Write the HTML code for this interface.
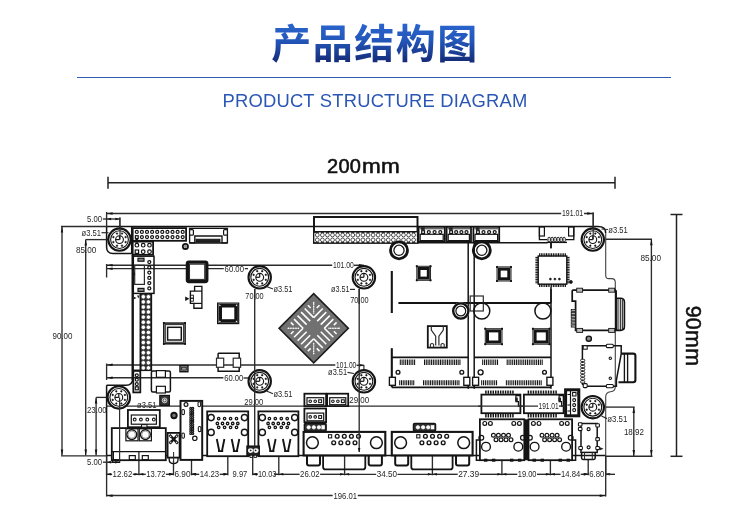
<!DOCTYPE html>
<html lang="zh">
<head>
<meta charset="utf-8">
<title>产品结构图 - Product Structure Diagram</title>
<style>
html,body{margin:0;padding:0;background:#fff;}
body{width:750px;height:528px;overflow:hidden;position:relative;font-family:"Liberation Sans",sans-serif;}
svg{position:absolute;left:0;top:0;display:block;will-change:transform;}
.sub,.w200,.h90{will-change:transform;}
svg text{font-family:"Liberation Sans",sans-serif;}
.sub{position:absolute;left:0;top:90.3px;width:750px;text-align:center;font-size:18.4px;line-height:22px;color:#2b57b4;letter-spacing:0.2px;white-space:nowrap;}
.rule{position:absolute;left:77px;top:77px;width:594px;height:1px;background:#2f5cb9;}
.w200{position:absolute;left:326.6px;top:155.4px;width:100px;text-align:left;font-size:20px;line-height:22px;color:#111;white-space:nowrap;letter-spacing:0.3px;-webkit-text-stroke:0.55px #111;}
.w200 i{font-style:normal;display:inline-block;transform:scaleX(1.125);transform-origin:0 50%;letter-spacing:0.2px;margin-left:0.3px;}
.h90{position:absolute;left:692.6px;top:336px;width:0;height:0;}
.h90 span{position:absolute;left:-50px;top:-11px;width:100px;height:22px;line-height:22px;text-align:center;font-size:21.4px;color:#111;transform:rotate(90deg);white-space:nowrap;-webkit-text-stroke:0.55px #111;letter-spacing:0.3px;}
</style>
</head>
<body>
<div class="rule"></div>
<div class="sub">PRODUCT STRUCTURE DIAGRAM</div>
<div class="w200">200<i>mm</i></div>
<div class="h90"><span>90mm</span></div>
<svg width="750" height="528" viewBox="0 0 750 528" role="img" aria-label="产品结构图">
<title>产品结构图</title>
<defs>
<linearGradient id="tg" x1="0" y1="22" x2="0" y2="62" gradientUnits="userSpaceOnUse">
<stop offset="0" stop-color="#2a66cf"/><stop offset="0.45" stop-color="#2457bb"/><stop offset="1" stop-color="#152c78"/>
</linearGradient>
<pattern id="bga" width="1.3" height="1.3" patternUnits="userSpaceOnUse">
<rect width="1.3" height="1.3" fill="#404040"/><circle cx="0.65" cy="0.65" r="0.42" fill="#cccccc"/>
</pattern>
</defs>
<text x="375" y="57.5" font-size="40" font-weight="bold" text-anchor="middle" letter-spacing="1.5" fill="url(#tg)" style="font-family:'Liberation Sans','Noto Sans CJK SC',sans-serif;">产品结构图</text>
<g stroke-linecap="butt" stroke-linejoin="miter">
<path d="M106.6 226.5 H598 Q605.7 226.5 605.7 233" fill="none" stroke="#141414" stroke-width="1.5" />
<path d="M605.7 233 V275.5 Q605.7 278.6 608.8 278.6 H611.6 Q615.3 278.6 615.3 282.5 V386.5 Q615.3 391.5 610.5 391.8 Q605.7 392.3 605.7 397 V455.6" fill="none" stroke="#444" stroke-width="1.125" />
<path d="M605.7 455.6 H106.6 V385.3" fill="none" stroke="#141414" stroke-width="1.5" />
<path d="M106.6 226.5 V247 Q106.6 253.5 113 253.5 H131.7 V226.5" fill="none" stroke="#141414" stroke-width="1.5" />
<path d="M106.6 385.3 H126 Q132.7 385.3 132.7 378.5" fill="none" stroke="#141414" stroke-width="1.5" />
<line x1="106.6" y1="213.5" x2="562.0" y2="213.5" stroke="#2c2c2c" stroke-width="1.5" />
<line x1="583.2" y1="213.5" x2="593.2" y2="213.5" stroke="#2c2c2c" stroke-width="1.5" />
<path d="M106.6 213.5 L112.6 212.2 L112.6 214.8Z" fill="#141414"/>
<path d="M593.2 213.5 L587.2 214.8 L587.2 212.2Z" fill="#141414"/>
<line x1="106.6" y1="212.0" x2="106.6" y2="226.5" stroke="#2c2c2c" stroke-width="1.35" />
<line x1="593.2" y1="212.5" x2="593.2" y2="239.5" stroke="#2c2c2c" stroke-width="1.35" />
<rect x="561.2" y="210.6" width="22.8" height="6.2" fill="#fff"/>
<text x="562.0" y="216.4" font-size="8.2" text-anchor="start" fill="#262626" font-weight="normal" textLength="21.2" lengthAdjust="spacingAndGlyphs" >191.01</text>
<line x1="102.5" y1="219.0" x2="119.8" y2="219.0" stroke="#2c2c2c" stroke-width="1.35" />
<path d="M106.6 219.0 L111.1 217.8 L111.1 220.2Z" fill="#141414"/>
<path d="M119.8 219.0 L115.3 220.2 L115.3 217.8Z" fill="#141414"/>
<line x1="119.8" y1="217.5" x2="119.8" y2="239.5" stroke="#2c2c2c" stroke-width="1.2000000000000002" />
<rect x="86.2" y="216.1" width="16.6" height="6.2" fill="#fff"/>
<text x="87.0" y="221.9" font-size="8.2" text-anchor="start" fill="#262626" font-weight="normal" textLength="15.0" lengthAdjust="spacingAndGlyphs" >5.00</text>
<line x1="61.0" y1="226.5" x2="106.6" y2="226.5" stroke="#2c2c2c" stroke-width="1.35" />
<line x1="62.0" y1="226.5" x2="62.0" y2="455.6" stroke="#2c2c2c" stroke-width="1.35" />
<path d="M62.0 226.5 L63.2 232.5 L60.8 232.5Z" fill="#141414"/>
<path d="M62.0 455.6 L60.8 449.6 L63.2 449.6Z" fill="#141414"/>
<text x="52.5" y="339.0" font-size="8.2" text-anchor="start" fill="#262626" font-weight="normal" textLength="20.0" lengthAdjust="spacingAndGlyphs" >90.00</text>
<line x1="85.7" y1="239.6" x2="85.7" y2="455.6" stroke="#2c2c2c" stroke-width="1.35" />
<path d="M85.7 239.6 L87.0 245.6 L84.5 245.6Z" fill="#141414"/>
<path d="M85.7 455.6 L84.5 449.6 L87.0 449.6Z" fill="#141414"/>
<line x1="85.7" y1="239.6" x2="108.0" y2="239.6" stroke="#2c2c2c" stroke-width="1.35" />
<text x="76.0" y="252.6" font-size="8.2" text-anchor="start" fill="#262626" font-weight="normal" textLength="20.4" lengthAdjust="spacingAndGlyphs" >85.00</text>
<text x="81.5" y="235.6" font-size="8.2" text-anchor="start" fill="#262626" font-weight="normal" textLength="19.5" lengthAdjust="spacingAndGlyphs" >ø3.51</text>
<line x1="101.5" y1="232.7" x2="108.5" y2="232.7" stroke="#2c2c2c" stroke-width="1.2000000000000002" />
<line x1="96.1" y1="397.4" x2="96.1" y2="455.6" stroke="#2c2c2c" stroke-width="1.35" />
<path d="M96.1 397.4 L97.3 403.4 L94.8 403.4Z" fill="#141414"/>
<path d="M96.1 455.6 L94.8 449.6 L97.3 449.6Z" fill="#141414"/>
<line x1="96.1" y1="397.4" x2="108.0" y2="397.4" stroke="#2c2c2c" stroke-width="1.35" />
<text x="87.0" y="413.2" font-size="8.2" text-anchor="start" fill="#262626" font-weight="normal" textLength="19.6" lengthAdjust="spacingAndGlyphs" >23.00</text>
<line x1="61.0" y1="455.8" x2="106.6" y2="455.8" stroke="#2c2c2c" stroke-width="1.35" />
<line x1="102.5" y1="462.2" x2="119.6" y2="462.2" stroke="#2c2c2c" stroke-width="1.35" />
<path d="M106.6 462.2 L111.1 460.9 L111.1 463.4Z" fill="#141414"/>
<path d="M119.6 462.2 L115.1 463.4 L115.1 460.9Z" fill="#141414"/>
<rect x="86.2" y="459.3" width="16.6" height="6.2" fill="#fff"/>
<text x="87.0" y="465.1" font-size="8.2" text-anchor="start" fill="#262626" font-weight="normal" textLength="15.0" lengthAdjust="spacingAndGlyphs" >5.00</text>
<line x1="106.6" y1="455.6" x2="106.6" y2="496.5" stroke="#2c2c2c" stroke-width="1.35" />
<line x1="106.6" y1="495.6" x2="605.7" y2="495.6" stroke="#2c2c2c" stroke-width="1.5" />
<path d="M106.6 495.6 L112.6 494.4 L112.6 496.9Z" fill="#141414"/>
<path d="M605.7 495.6 L599.7 496.9 L599.7 494.4Z" fill="#141414"/>
<rect x="332.7" y="492.7" width="25.1" height="6.2" fill="#fff"/>
<text x="333.5" y="498.5" font-size="8.2" text-anchor="start" fill="#262626" font-weight="normal" textLength="23.5" lengthAdjust="spacingAndGlyphs" >196.01</text>
<line x1="605.7" y1="455.6" x2="605.7" y2="496.5" stroke="#2c2c2c" stroke-width="1.35" />
<line x1="106.6" y1="265.3" x2="333.0" y2="265.3" stroke="#2c2c2c" stroke-width="1.5" />
<path d="M106.6 265.3 L112.6 264.1 L112.6 266.6Z" fill="#141414"/>
<line x1="106.6" y1="268.6" x2="248.0" y2="268.6" stroke="#2c2c2c" stroke-width="1.35" />
<path d="M106.6 268.6 L112.6 267.4 L112.6 269.9Z" fill="#141414"/>
<line x1="106.6" y1="264.0" x2="106.6" y2="277.5" stroke="#2c2c2c" stroke-width="1.35" />
<rect x="223.8" y="266.0" width="21.0" height="6.2" fill="#fff"/>
<text x="224.6" y="271.8" font-size="8.2" text-anchor="start" fill="#262626" font-weight="normal" textLength="19.4" lengthAdjust="spacingAndGlyphs" >60.00</text>
<rect x="332.2" y="262.4" width="22.4" height="6.2" fill="#fff"/>
<text x="333.0" y="268.2" font-size="8.2" text-anchor="start" fill="#262626" font-weight="normal" textLength="20.8" lengthAdjust="spacingAndGlyphs" >101.00</text>
<line x1="354.0" y1="265.3" x2="363.9" y2="265.3" stroke="#2c2c2c" stroke-width="1.5" />
<path d="M363.9 265.3 L358.9 266.6 L358.9 264.1Z" fill="#141414"/>
<line x1="106.6" y1="364.9" x2="336.0" y2="364.9" stroke="#2c2c2c" stroke-width="1.5" />
<path d="M106.6 364.9 L112.6 363.6 L112.6 366.1Z" fill="#141414"/>
<line x1="106.6" y1="377.7" x2="224.0" y2="377.7" stroke="#2c2c2c" stroke-width="1.35" />
<path d="M106.6 377.7 L112.6 376.4 L112.6 378.9Z" fill="#141414"/>
<line x1="106.6" y1="363.5" x2="106.6" y2="380.0" stroke="#2c2c2c" stroke-width="1.35" />
<rect x="223.4" y="375.4" width="20.8" height="6.2" fill="#fff"/>
<text x="224.2" y="381.2" font-size="8.2" text-anchor="start" fill="#262626" font-weight="normal" textLength="19.2" lengthAdjust="spacingAndGlyphs" >60.00</text>
<line x1="243.5" y1="378.0" x2="249.0" y2="378.0" stroke="#2c2c2c" stroke-width="1.35" />
<rect x="335.3" y="362.4" width="21.7" height="6.2" fill="#fff"/>
<text x="336.1" y="368.2" font-size="8.2" text-anchor="start" fill="#262626" font-weight="normal" textLength="20.1" lengthAdjust="spacingAndGlyphs" >101.00</text>
<line x1="356.5" y1="365.3" x2="363.9" y2="365.3" stroke="#2c2c2c" stroke-width="1.5" />
<path d="M363.9 365.3 L359.4 366.6 L359.4 364.1Z" fill="#141414"/>
<line x1="363.9" y1="365.0" x2="363.9" y2="372.0" stroke="#2c2c2c" stroke-width="1.2000000000000002" />
<text x="245.3" y="298.5" font-size="8.2" text-anchor="start" fill="#262626" font-weight="normal" textLength="18.4" lengthAdjust="spacingAndGlyphs" >70.00</text>
<text x="350.2" y="302.6" font-size="8.2" text-anchor="start" fill="#262626" font-weight="normal" textLength="18.4" lengthAdjust="spacingAndGlyphs" >70.00</text>
<line x1="254.7" y1="289.0" x2="254.7" y2="300.0" stroke="#2c2c2c" stroke-width="1.35" />
<line x1="359.2" y1="289.0" x2="359.2" y2="304.0" stroke="#2c2c2c" stroke-width="1.35" />
<text x="273.4" y="292.0" font-size="8.2" text-anchor="start" fill="#262626" font-weight="normal" textLength="19.0" lengthAdjust="spacingAndGlyphs" >ø3.51</text>
<line x1="266.5" y1="286.5" x2="273.0" y2="289.0" stroke="#2c2c2c" stroke-width="1.2000000000000002" />
<text x="331.0" y="292.4" font-size="8.2" text-anchor="start" fill="#262626" font-weight="normal" textLength="18.5" lengthAdjust="spacingAndGlyphs" >ø3.51</text>
<line x1="350.0" y1="289.4" x2="355.0" y2="289.4" stroke="#2c2c2c" stroke-width="1.2000000000000002" />
<text x="273.4" y="396.8" font-size="8.2" text-anchor="start" fill="#262626" font-weight="normal" textLength="19.0" lengthAdjust="spacingAndGlyphs" >ø3.51</text>
<line x1="266.5" y1="391.0" x2="273.0" y2="393.8" stroke="#2c2c2c" stroke-width="1.2000000000000002" />
<text x="328.1" y="375.3" font-size="8.2" text-anchor="start" fill="#262626" font-weight="normal" textLength="19.0" lengthAdjust="spacingAndGlyphs" >ø3.51</text>
<line x1="347.5" y1="372.3" x2="354.0" y2="373.5" stroke="#2c2c2c" stroke-width="1.2000000000000002" />
<text x="608.3" y="232.5" font-size="8.2" text-anchor="start" fill="#262626" font-weight="normal" textLength="19.4" lengthAdjust="spacingAndGlyphs" >ø3.51</text>
<line x1="601.5" y1="229.0" x2="608.0" y2="229.5" stroke="#2c2c2c" stroke-width="1.2000000000000002" />
<text x="607.3" y="421.6" font-size="8.2" text-anchor="start" fill="#262626" font-weight="normal" textLength="20.0" lengthAdjust="spacingAndGlyphs" >ø3.51</text>
<line x1="601.5" y1="416.0" x2="607.0" y2="418.6" stroke="#2c2c2c" stroke-width="1.2000000000000002" />
<text x="137.0" y="408.0" font-size="8.2" text-anchor="start" fill="#262626" font-weight="normal" textLength="19.5" lengthAdjust="spacingAndGlyphs" >ø3.51</text>
<line x1="106.6" y1="406.1" x2="538.0" y2="406.1" stroke="#2c2c2c" stroke-width="1.35" />
<text x="244.3" y="405.2" font-size="8.2" text-anchor="start" fill="#262626" font-weight="normal" textLength="19.0" lengthAdjust="spacingAndGlyphs" >29.00</text>
<text x="349.2" y="403.3" font-size="8.2" text-anchor="start" fill="#262626" font-weight="normal" textLength="20.0" lengthAdjust="spacingAndGlyphs" >29.00</text>
<line x1="605.7" y1="239.2" x2="652.0" y2="239.2" stroke="#2c2c2c" stroke-width="1.35" />
<line x1="651.4" y1="239.2" x2="651.4" y2="456.0" stroke="#2c2c2c" stroke-width="1.35" />
<path d="M651.4 239.2 L652.6 245.2 L650.1 245.2Z" fill="#141414"/>
<path d="M651.4 456.0 L650.1 450.0 L652.6 450.0Z" fill="#141414"/>
<text x="640.4" y="261.3" font-size="8.2" text-anchor="start" fill="#262626" font-weight="normal" textLength="20.6" lengthAdjust="spacingAndGlyphs" >85.00</text>
<line x1="605.7" y1="456.2" x2="652.5" y2="456.2" stroke="#2c2c2c" stroke-width="1.35" />
<line x1="605.7" y1="407.1" x2="634.6" y2="407.1" stroke="#2c2c2c" stroke-width="1.35" />
<line x1="633.8" y1="407.1" x2="633.8" y2="456.0" stroke="#2c2c2c" stroke-width="1.35" />
<path d="M633.8 407.1 L635.0 413.1 L632.5 413.1Z" fill="#141414"/>
<path d="M633.8 456.0 L632.5 450.0 L635.0 450.0Z" fill="#141414"/>
<text x="623.9" y="435.2" font-size="8.2" text-anchor="start" fill="#262626" font-weight="normal" textLength="20.0" lengthAdjust="spacingAndGlyphs" >18.92</text>
<line x1="106.6" y1="456.0" x2="106.6" y2="475.3" stroke="#2c2c2c" stroke-width="1.35" />
<line x1="138.9" y1="452.0" x2="138.9" y2="475.3" stroke="#2c2c2c" stroke-width="1.35" />
<line x1="173.5" y1="461.0" x2="173.5" y2="475.3" stroke="#2c2c2c" stroke-width="1.35" />
<line x1="191.5" y1="453.0" x2="191.5" y2="475.3" stroke="#2c2c2c" stroke-width="1.35" />
<line x1="227.8" y1="453.0" x2="227.8" y2="475.3" stroke="#2c2c2c" stroke-width="1.35" />
<line x1="252.7" y1="453.0" x2="252.7" y2="475.3" stroke="#2c2c2c" stroke-width="1.35" />
<line x1="278.8" y1="453.0" x2="278.8" y2="475.3" stroke="#2c2c2c" stroke-width="1.35" />
<line x1="344.6" y1="453.0" x2="344.6" y2="475.3" stroke="#2c2c2c" stroke-width="1.35" />
<line x1="432.4" y1="453.0" x2="432.4" y2="475.3" stroke="#2c2c2c" stroke-width="1.35" />
<line x1="501.9" y1="453.0" x2="501.9" y2="475.3" stroke="#2c2c2c" stroke-width="1.35" />
<line x1="550.4" y1="459.0" x2="550.4" y2="475.3" stroke="#2c2c2c" stroke-width="1.35" />
<line x1="588.2" y1="459.0" x2="588.2" y2="475.3" stroke="#2c2c2c" stroke-width="1.35" />
<line x1="605.7" y1="456.0" x2="605.7" y2="475.3" stroke="#2c2c2c" stroke-width="1.35" />
<line x1="106.6" y1="474.3" x2="112.1" y2="474.3" stroke="#2c2c2c" stroke-width="1.35" />
<line x1="132.8" y1="474.3" x2="138.9" y2="474.3" stroke="#2c2c2c" stroke-width="1.35" />
<path d="M106.6 474.3 L111.1 473.1 L111.1 475.6Z" fill="#141414"/>
<path d="M138.9 474.3 L134.4 475.6 L134.4 473.1Z" fill="#141414"/>
<text x="112.6" y="477.2" font-size="8.2" text-anchor="start" fill="#262626" font-weight="normal" textLength="19.7" lengthAdjust="spacingAndGlyphs" >12.62</text>
<line x1="138.9" y1="474.3" x2="145.8" y2="474.3" stroke="#2c2c2c" stroke-width="1.35" />
<line x1="165.9" y1="474.3" x2="173.5" y2="474.3" stroke="#2c2c2c" stroke-width="1.35" />
<path d="M138.9 474.3 L143.4 473.1 L143.4 475.6Z" fill="#141414"/>
<path d="M173.5 474.3 L169.0 475.6 L169.0 473.1Z" fill="#141414"/>
<text x="146.3" y="477.2" font-size="8.2" text-anchor="start" fill="#262626" font-weight="normal" textLength="19.1" lengthAdjust="spacingAndGlyphs" >13.72</text>
<line x1="168.5" y1="474.3" x2="173.5" y2="474.3" stroke="#2c2c2c" stroke-width="1.35" />
<line x1="191.5" y1="474.3" x2="196.5" y2="474.3" stroke="#2c2c2c" stroke-width="1.35" />
<path d="M173.5 474.3 L169.5 475.6 L169.5 473.1Z" fill="#141414"/>
<path d="M191.5 474.3 L195.5 473.1 L195.5 475.6Z" fill="#141414"/>
<text x="174.5" y="477.2" font-size="8.2" text-anchor="start" fill="#262626" font-weight="normal" textLength="16.0" lengthAdjust="spacingAndGlyphs" >6.90</text>
<line x1="191.5" y1="474.3" x2="199.2" y2="474.3" stroke="#2c2c2c" stroke-width="1.35" />
<line x1="219.7" y1="474.3" x2="227.8" y2="474.3" stroke="#2c2c2c" stroke-width="1.35" />
<path d="M191.5 474.3 L196.0 473.1 L196.0 475.6Z" fill="#141414"/>
<path d="M227.8 474.3 L223.3 475.6 L223.3 473.1Z" fill="#141414"/>
<text x="199.7" y="477.2" font-size="8.2" text-anchor="start" fill="#262626" font-weight="normal" textLength="19.5" lengthAdjust="spacingAndGlyphs" >14.23</text>
<line x1="222.8" y1="474.3" x2="227.8" y2="474.3" stroke="#2c2c2c" stroke-width="1.35" />
<line x1="252.7" y1="474.3" x2="257.7" y2="474.3" stroke="#2c2c2c" stroke-width="1.35" />
<path d="M227.8 474.3 L223.8 475.6 L223.8 473.1Z" fill="#141414"/>
<path d="M252.7 474.3 L256.7 473.1 L256.7 475.6Z" fill="#141414"/>
<text x="232.6" y="477.2" font-size="8.2" text-anchor="start" fill="#262626" font-weight="normal" textLength="14.7" lengthAdjust="spacingAndGlyphs" >9.97</text>
<line x1="252.7" y1="474.3" x2="257.4" y2="474.3" stroke="#2c2c2c" stroke-width="1.35" />
<line x1="276.9" y1="474.3" x2="278.8" y2="474.3" stroke="#2c2c2c" stroke-width="1.35" />
<path d="M252.7 474.3 L257.2 473.1 L257.2 475.6Z" fill="#141414"/>
<path d="M278.8 474.3 L274.3 475.6 L274.3 473.1Z" fill="#141414"/>
<text x="257.9" y="477.2" font-size="8.2" text-anchor="start" fill="#262626" font-weight="normal" textLength="18.5" lengthAdjust="spacingAndGlyphs" >10.03</text>
<line x1="278.8" y1="474.3" x2="299.6" y2="474.3" stroke="#2c2c2c" stroke-width="1.35" />
<line x1="320.1" y1="474.3" x2="344.6" y2="474.3" stroke="#2c2c2c" stroke-width="1.35" />
<path d="M278.8 474.3 L283.3 473.1 L283.3 475.6Z" fill="#141414"/>
<path d="M344.6 474.3 L340.1 475.6 L340.1 473.1Z" fill="#141414"/>
<text x="300.1" y="477.2" font-size="8.2" text-anchor="start" fill="#262626" font-weight="normal" textLength="19.5" lengthAdjust="spacingAndGlyphs" >26.02</text>
<line x1="344.6" y1="474.3" x2="376.2" y2="474.3" stroke="#2c2c2c" stroke-width="1.35" />
<line x1="397.5" y1="474.3" x2="432.4" y2="474.3" stroke="#2c2c2c" stroke-width="1.35" />
<path d="M344.6 474.3 L349.1 473.1 L349.1 475.6Z" fill="#141414"/>
<path d="M432.4 474.3 L427.9 475.6 L427.9 473.1Z" fill="#141414"/>
<text x="376.7" y="477.2" font-size="8.2" text-anchor="start" fill="#262626" font-weight="normal" textLength="20.3" lengthAdjust="spacingAndGlyphs" >34.50</text>
<line x1="432.4" y1="474.3" x2="457.7" y2="474.3" stroke="#2c2c2c" stroke-width="1.35" />
<line x1="479.7" y1="474.3" x2="501.9" y2="474.3" stroke="#2c2c2c" stroke-width="1.35" />
<path d="M432.4 474.3 L436.9 473.1 L436.9 475.6Z" fill="#141414"/>
<path d="M501.9 474.3 L497.4 475.6 L497.4 473.1Z" fill="#141414"/>
<text x="458.2" y="477.2" font-size="8.2" text-anchor="start" fill="#262626" font-weight="normal" textLength="21.0" lengthAdjust="spacingAndGlyphs" >27.39</text>
<line x1="501.9" y1="474.3" x2="517.3" y2="474.3" stroke="#2c2c2c" stroke-width="1.35" />
<line x1="537.0" y1="474.3" x2="550.4" y2="474.3" stroke="#2c2c2c" stroke-width="1.35" />
<path d="M501.9 474.3 L506.4 473.1 L506.4 475.6Z" fill="#141414"/>
<path d="M550.4 474.3 L545.9 475.6 L545.9 473.1Z" fill="#141414"/>
<text x="517.8" y="477.2" font-size="8.2" text-anchor="start" fill="#262626" font-weight="normal" textLength="18.7" lengthAdjust="spacingAndGlyphs" >19.00</text>
<line x1="550.4" y1="474.3" x2="560.6" y2="474.3" stroke="#2c2c2c" stroke-width="1.35" />
<line x1="580.7" y1="474.3" x2="588.2" y2="474.3" stroke="#2c2c2c" stroke-width="1.35" />
<path d="M550.4 474.3 L554.9 473.1 L554.9 475.6Z" fill="#141414"/>
<path d="M588.2 474.3 L583.7 475.6 L583.7 473.1Z" fill="#141414"/>
<text x="561.1" y="477.2" font-size="8.2" text-anchor="start" fill="#262626" font-weight="normal" textLength="19.1" lengthAdjust="spacingAndGlyphs" >14.84</text>
<line x1="583.2" y1="474.3" x2="588.2" y2="474.3" stroke="#2c2c2c" stroke-width="1.35" />
<line x1="605.7" y1="474.3" x2="610.7" y2="474.3" stroke="#2c2c2c" stroke-width="1.35" />
<path d="M588.2 474.3 L584.2 475.6 L584.2 473.1Z" fill="#141414"/>
<path d="M605.7 474.3 L609.7 473.1 L609.7 475.6Z" fill="#141414"/>
<text x="589.2" y="477.2" font-size="8.2" text-anchor="start" fill="#262626" font-weight="normal" textLength="15.1" lengthAdjust="spacingAndGlyphs" >6.80</text>
<line x1="605.7" y1="474.3" x2="615.0" y2="474.3" stroke="#2c2c2c" stroke-width="1.35" />
<line x1="108.0" y1="182.8" x2="615.0" y2="182.8" stroke="#222" stroke-width="1.5" />
<line x1="108.0" y1="176.8" x2="108.0" y2="188.8" stroke="#222" stroke-width="1.5" />
<line x1="615.0" y1="176.8" x2="615.0" y2="188.8" stroke="#222" stroke-width="1.5" />
<line x1="676.5" y1="214.5" x2="676.5" y2="456.3" stroke="#222" stroke-width="1.5" />
<line x1="670.5" y1="214.5" x2="682.5" y2="214.5" stroke="#222" stroke-width="1.5" />
<line x1="670.5" y1="456.3" x2="682.5" y2="456.3" stroke="#222" stroke-width="1.5" />
<circle cx="119.5" cy="239.6" r="11.5" fill="#fff"/>
<circle cx="119.5" cy="239.6" r="11.20" fill="none" stroke="#141414" stroke-width="2.0999999999999996"/>
<circle cx="119.5" cy="239.6" r="8.90" fill="none" stroke="#141414" stroke-width="1.125"/>
<circle cx="125.6" cy="242.1" r="0.85" fill="#141414" stroke="#141414" stroke-width="0.44999999999999996"/>
<circle cx="122.0" cy="245.7" r="0.85" fill="#141414" stroke="#141414" stroke-width="0.44999999999999996"/>
<circle cx="117.0" cy="245.7" r="0.85" fill="#141414" stroke="#141414" stroke-width="0.44999999999999996"/>
<circle cx="113.4" cy="242.1" r="0.85" fill="#141414" stroke="#141414" stroke-width="0.44999999999999996"/>
<circle cx="113.4" cy="237.1" r="0.85" fill="#141414" stroke="#141414" stroke-width="0.44999999999999996"/>
<circle cx="117.0" cy="233.5" r="0.85" fill="#141414" stroke="#141414" stroke-width="0.44999999999999996"/>
<circle cx="122.0" cy="233.5" r="0.85" fill="#141414" stroke="#141414" stroke-width="0.44999999999999996"/>
<circle cx="125.6" cy="237.1" r="0.85" fill="#141414" stroke="#141414" stroke-width="0.44999999999999996"/>
<circle cx="119.5" cy="239.6" r="3.90" fill="none" stroke="#141414" stroke-width="1.125"/>
<line x1="119.5" y1="239.6" x2="119.5" y2="235.7" stroke="#141414" stroke-width="1.2000000000000002" />
<line x1="115.6" y1="239.6" x2="119.5" y2="239.6" stroke="#141414" stroke-width="1.2000000000000002" />
<circle cx="259.7" cy="277.3" r="11.5" fill="#fff"/>
<circle cx="259.7" cy="277.3" r="11.20" fill="none" stroke="#141414" stroke-width="2.0999999999999996"/>
<circle cx="259.7" cy="277.3" r="8.90" fill="none" stroke="#141414" stroke-width="1.125"/>
<circle cx="265.8" cy="279.8" r="0.85" fill="#141414" stroke="#141414" stroke-width="0.44999999999999996"/>
<circle cx="262.2" cy="283.4" r="0.85" fill="#141414" stroke="#141414" stroke-width="0.44999999999999996"/>
<circle cx="257.2" cy="283.4" r="0.85" fill="#141414" stroke="#141414" stroke-width="0.44999999999999996"/>
<circle cx="253.6" cy="279.8" r="0.85" fill="#141414" stroke="#141414" stroke-width="0.44999999999999996"/>
<circle cx="253.6" cy="274.8" r="0.85" fill="#141414" stroke="#141414" stroke-width="0.44999999999999996"/>
<circle cx="257.2" cy="271.2" r="0.85" fill="#141414" stroke="#141414" stroke-width="0.44999999999999996"/>
<circle cx="262.2" cy="271.2" r="0.85" fill="#141414" stroke="#141414" stroke-width="0.44999999999999996"/>
<circle cx="265.8" cy="274.8" r="0.85" fill="#141414" stroke="#141414" stroke-width="0.44999999999999996"/>
<circle cx="259.7" cy="277.3" r="3.90" fill="none" stroke="#141414" stroke-width="1.125"/>
<line x1="259.7" y1="277.3" x2="259.7" y2="273.4" stroke="#141414" stroke-width="1.2000000000000002" />
<line x1="255.8" y1="277.3" x2="259.7" y2="277.3" stroke="#141414" stroke-width="1.2000000000000002" />
<circle cx="363.9" cy="277.3" r="11.5" fill="#fff"/>
<circle cx="363.9" cy="277.3" r="11.20" fill="none" stroke="#141414" stroke-width="2.0999999999999996"/>
<circle cx="363.9" cy="277.3" r="8.90" fill="none" stroke="#141414" stroke-width="1.125"/>
<circle cx="370.0" cy="279.8" r="0.85" fill="#141414" stroke="#141414" stroke-width="0.44999999999999996"/>
<circle cx="366.4" cy="283.4" r="0.85" fill="#141414" stroke="#141414" stroke-width="0.44999999999999996"/>
<circle cx="361.4" cy="283.4" r="0.85" fill="#141414" stroke="#141414" stroke-width="0.44999999999999996"/>
<circle cx="357.8" cy="279.8" r="0.85" fill="#141414" stroke="#141414" stroke-width="0.44999999999999996"/>
<circle cx="357.8" cy="274.8" r="0.85" fill="#141414" stroke="#141414" stroke-width="0.44999999999999996"/>
<circle cx="361.4" cy="271.2" r="0.85" fill="#141414" stroke="#141414" stroke-width="0.44999999999999996"/>
<circle cx="366.4" cy="271.2" r="0.85" fill="#141414" stroke="#141414" stroke-width="0.44999999999999996"/>
<circle cx="370.0" cy="274.8" r="0.85" fill="#141414" stroke="#141414" stroke-width="0.44999999999999996"/>
<circle cx="363.9" cy="277.3" r="3.90" fill="none" stroke="#141414" stroke-width="1.125"/>
<line x1="363.9" y1="277.3" x2="363.9" y2="273.4" stroke="#141414" stroke-width="1.2000000000000002" />
<line x1="360.0" y1="277.3" x2="363.9" y2="277.3" stroke="#141414" stroke-width="1.2000000000000002" />
<circle cx="592.8" cy="239.6" r="11.5" fill="#fff"/>
<circle cx="592.8" cy="239.6" r="11.20" fill="none" stroke="#141414" stroke-width="2.0999999999999996"/>
<circle cx="592.8" cy="239.6" r="8.90" fill="none" stroke="#141414" stroke-width="1.125"/>
<circle cx="598.9" cy="242.1" r="0.85" fill="#141414" stroke="#141414" stroke-width="0.44999999999999996"/>
<circle cx="595.3" cy="245.7" r="0.85" fill="#141414" stroke="#141414" stroke-width="0.44999999999999996"/>
<circle cx="590.3" cy="245.7" r="0.85" fill="#141414" stroke="#141414" stroke-width="0.44999999999999996"/>
<circle cx="586.7" cy="242.1" r="0.85" fill="#141414" stroke="#141414" stroke-width="0.44999999999999996"/>
<circle cx="586.7" cy="237.1" r="0.85" fill="#141414" stroke="#141414" stroke-width="0.44999999999999996"/>
<circle cx="590.3" cy="233.5" r="0.85" fill="#141414" stroke="#141414" stroke-width="0.44999999999999996"/>
<circle cx="595.3" cy="233.5" r="0.85" fill="#141414" stroke="#141414" stroke-width="0.44999999999999996"/>
<circle cx="598.9" cy="237.1" r="0.85" fill="#141414" stroke="#141414" stroke-width="0.44999999999999996"/>
<circle cx="592.8" cy="239.6" r="3.90" fill="none" stroke="#141414" stroke-width="1.125"/>
<line x1="592.8" y1="239.6" x2="592.8" y2="235.7" stroke="#141414" stroke-width="1.2000000000000002" />
<line x1="588.9" y1="239.6" x2="592.8" y2="239.6" stroke="#141414" stroke-width="1.2000000000000002" />
<circle cx="118.8" cy="397.4" r="11.5" fill="#fff"/>
<circle cx="118.8" cy="397.4" r="11.20" fill="none" stroke="#141414" stroke-width="2.0999999999999996"/>
<circle cx="118.8" cy="397.4" r="8.90" fill="none" stroke="#141414" stroke-width="1.125"/>
<circle cx="124.9" cy="399.9" r="0.85" fill="#141414" stroke="#141414" stroke-width="0.44999999999999996"/>
<circle cx="121.3" cy="403.5" r="0.85" fill="#141414" stroke="#141414" stroke-width="0.44999999999999996"/>
<circle cx="116.3" cy="403.5" r="0.85" fill="#141414" stroke="#141414" stroke-width="0.44999999999999996"/>
<circle cx="112.7" cy="399.9" r="0.85" fill="#141414" stroke="#141414" stroke-width="0.44999999999999996"/>
<circle cx="112.7" cy="394.9" r="0.85" fill="#141414" stroke="#141414" stroke-width="0.44999999999999996"/>
<circle cx="116.3" cy="391.3" r="0.85" fill="#141414" stroke="#141414" stroke-width="0.44999999999999996"/>
<circle cx="121.3" cy="391.3" r="0.85" fill="#141414" stroke="#141414" stroke-width="0.44999999999999996"/>
<circle cx="124.9" cy="394.9" r="0.85" fill="#141414" stroke="#141414" stroke-width="0.44999999999999996"/>
<circle cx="118.8" cy="397.4" r="3.90" fill="none" stroke="#141414" stroke-width="1.125"/>
<line x1="118.8" y1="397.4" x2="118.8" y2="393.5" stroke="#141414" stroke-width="1.2000000000000002" />
<line x1="114.9" y1="397.4" x2="118.8" y2="397.4" stroke="#141414" stroke-width="1.2000000000000002" />
<circle cx="259.7" cy="381.3" r="11.5" fill="#fff"/>
<circle cx="259.7" cy="381.3" r="11.20" fill="none" stroke="#141414" stroke-width="2.0999999999999996"/>
<circle cx="259.7" cy="381.3" r="8.90" fill="none" stroke="#141414" stroke-width="1.125"/>
<circle cx="265.8" cy="383.8" r="0.85" fill="#141414" stroke="#141414" stroke-width="0.44999999999999996"/>
<circle cx="262.2" cy="387.4" r="0.85" fill="#141414" stroke="#141414" stroke-width="0.44999999999999996"/>
<circle cx="257.2" cy="387.4" r="0.85" fill="#141414" stroke="#141414" stroke-width="0.44999999999999996"/>
<circle cx="253.6" cy="383.8" r="0.85" fill="#141414" stroke="#141414" stroke-width="0.44999999999999996"/>
<circle cx="253.6" cy="378.8" r="0.85" fill="#141414" stroke="#141414" stroke-width="0.44999999999999996"/>
<circle cx="257.2" cy="375.2" r="0.85" fill="#141414" stroke="#141414" stroke-width="0.44999999999999996"/>
<circle cx="262.2" cy="375.2" r="0.85" fill="#141414" stroke="#141414" stroke-width="0.44999999999999996"/>
<circle cx="265.8" cy="378.8" r="0.85" fill="#141414" stroke="#141414" stroke-width="0.44999999999999996"/>
<circle cx="259.7" cy="381.3" r="3.90" fill="none" stroke="#141414" stroke-width="1.125"/>
<line x1="259.7" y1="381.3" x2="259.7" y2="377.4" stroke="#141414" stroke-width="1.2000000000000002" />
<line x1="255.8" y1="381.3" x2="259.7" y2="381.3" stroke="#141414" stroke-width="1.2000000000000002" />
<circle cx="363.9" cy="381.3" r="11.5" fill="#fff"/>
<circle cx="363.9" cy="381.3" r="11.20" fill="none" stroke="#141414" stroke-width="2.0999999999999996"/>
<circle cx="363.9" cy="381.3" r="8.90" fill="none" stroke="#141414" stroke-width="1.125"/>
<circle cx="370.0" cy="383.8" r="0.85" fill="#141414" stroke="#141414" stroke-width="0.44999999999999996"/>
<circle cx="366.4" cy="387.4" r="0.85" fill="#141414" stroke="#141414" stroke-width="0.44999999999999996"/>
<circle cx="361.4" cy="387.4" r="0.85" fill="#141414" stroke="#141414" stroke-width="0.44999999999999996"/>
<circle cx="357.8" cy="383.8" r="0.85" fill="#141414" stroke="#141414" stroke-width="0.44999999999999996"/>
<circle cx="357.8" cy="378.8" r="0.85" fill="#141414" stroke="#141414" stroke-width="0.44999999999999996"/>
<circle cx="361.4" cy="375.2" r="0.85" fill="#141414" stroke="#141414" stroke-width="0.44999999999999996"/>
<circle cx="366.4" cy="375.2" r="0.85" fill="#141414" stroke="#141414" stroke-width="0.44999999999999996"/>
<circle cx="370.0" cy="378.8" r="0.85" fill="#141414" stroke="#141414" stroke-width="0.44999999999999996"/>
<circle cx="363.9" cy="381.3" r="3.90" fill="none" stroke="#141414" stroke-width="1.125"/>
<line x1="363.9" y1="381.3" x2="363.9" y2="377.4" stroke="#141414" stroke-width="1.2000000000000002" />
<line x1="360.0" y1="381.3" x2="363.9" y2="381.3" stroke="#141414" stroke-width="1.2000000000000002" />
<circle cx="592.8" cy="407.2" r="11.5" fill="#fff"/>
<circle cx="592.8" cy="407.2" r="11.20" fill="none" stroke="#141414" stroke-width="2.0999999999999996"/>
<circle cx="592.8" cy="407.2" r="8.90" fill="none" stroke="#141414" stroke-width="1.125"/>
<circle cx="598.9" cy="409.7" r="0.85" fill="#141414" stroke="#141414" stroke-width="0.44999999999999996"/>
<circle cx="595.3" cy="413.3" r="0.85" fill="#141414" stroke="#141414" stroke-width="0.44999999999999996"/>
<circle cx="590.3" cy="413.3" r="0.85" fill="#141414" stroke="#141414" stroke-width="0.44999999999999996"/>
<circle cx="586.7" cy="409.7" r="0.85" fill="#141414" stroke="#141414" stroke-width="0.44999999999999996"/>
<circle cx="586.7" cy="404.7" r="0.85" fill="#141414" stroke="#141414" stroke-width="0.44999999999999996"/>
<circle cx="590.3" cy="401.1" r="0.85" fill="#141414" stroke="#141414" stroke-width="0.44999999999999996"/>
<circle cx="595.3" cy="401.1" r="0.85" fill="#141414" stroke="#141414" stroke-width="0.44999999999999996"/>
<circle cx="598.9" cy="404.7" r="0.85" fill="#141414" stroke="#141414" stroke-width="0.44999999999999996"/>
<circle cx="592.8" cy="407.2" r="3.90" fill="none" stroke="#141414" stroke-width="1.125"/>
<line x1="592.8" y1="407.2" x2="592.8" y2="403.3" stroke="#141414" stroke-width="1.2000000000000002" />
<line x1="588.9" y1="407.2" x2="592.8" y2="407.2" stroke="#141414" stroke-width="1.2000000000000002" />
<rect x="132.7" y="228.1" width="53.4" height="12.7" rx="0" fill="none" stroke="#141414" stroke-width="1.7999999999999998"/>
<circle cx="136.8" cy="231.9" r="1.50" fill="none" stroke="#141414" stroke-width="1.2000000000000002"/>
<rect x="135.4" y="235.7" width="2.8" height="2.8" rx="0" fill="none" stroke="#141414" stroke-width="1.2000000000000002"/>
<circle cx="141.9" cy="231.9" r="1.50" fill="none" stroke="#141414" stroke-width="1.2000000000000002"/>
<circle cx="141.9" cy="237.1" r="1.50" fill="none" stroke="#141414" stroke-width="1.2000000000000002"/>
<circle cx="147.0" cy="231.9" r="1.50" fill="none" stroke="#141414" stroke-width="1.2000000000000002"/>
<circle cx="147.0" cy="237.1" r="1.50" fill="none" stroke="#141414" stroke-width="1.2000000000000002"/>
<circle cx="152.1" cy="231.9" r="1.50" fill="none" stroke="#141414" stroke-width="1.2000000000000002"/>
<circle cx="152.1" cy="237.1" r="1.50" fill="none" stroke="#141414" stroke-width="1.2000000000000002"/>
<circle cx="157.2" cy="231.9" r="1.50" fill="none" stroke="#141414" stroke-width="1.2000000000000002"/>
<circle cx="157.2" cy="237.1" r="1.50" fill="none" stroke="#141414" stroke-width="1.2000000000000002"/>
<circle cx="162.3" cy="231.9" r="1.50" fill="none" stroke="#141414" stroke-width="1.2000000000000002"/>
<circle cx="162.3" cy="237.1" r="1.50" fill="none" stroke="#141414" stroke-width="1.2000000000000002"/>
<circle cx="167.4" cy="231.9" r="1.50" fill="none" stroke="#141414" stroke-width="1.2000000000000002"/>
<circle cx="167.4" cy="237.1" r="1.50" fill="none" stroke="#141414" stroke-width="1.2000000000000002"/>
<circle cx="172.5" cy="231.9" r="1.50" fill="none" stroke="#141414" stroke-width="1.2000000000000002"/>
<circle cx="172.5" cy="237.1" r="1.50" fill="none" stroke="#141414" stroke-width="1.2000000000000002"/>
<circle cx="177.6" cy="231.9" r="1.50" fill="none" stroke="#141414" stroke-width="1.2000000000000002"/>
<circle cx="177.6" cy="237.1" r="1.50" fill="none" stroke="#141414" stroke-width="1.2000000000000002"/>
<circle cx="182.7" cy="231.9" r="1.50" fill="none" stroke="#141414" stroke-width="1.2000000000000002"/>
<circle cx="182.7" cy="237.1" r="1.50" fill="none" stroke="#141414" stroke-width="1.2000000000000002"/>
<rect x="132.7" y="241.6" width="20.4" height="13.2" rx="0" fill="none" stroke="#141414" stroke-width="1.7999999999999998"/>
<rect x="135.4" y="238.6" width="2.6" height="4" fill="#141414"/>
<circle cx="136.9" cy="245.2" r="1.80" fill="none" stroke="#141414" stroke-width="1.2000000000000002"/>
<rect x="135.2" y="250.0" width="3.4" height="3.4" rx="0" fill="none" stroke="#141414" stroke-width="1.2000000000000002"/>
<circle cx="143.2" cy="245.2" r="1.80" fill="none" stroke="#141414" stroke-width="1.2000000000000002"/>
<circle cx="143.2" cy="251.7" r="1.80" fill="none" stroke="#141414" stroke-width="1.2000000000000002"/>
<circle cx="149.5" cy="245.2" r="1.80" fill="none" stroke="#141414" stroke-width="1.2000000000000002"/>
<circle cx="149.5" cy="251.7" r="1.80" fill="none" stroke="#141414" stroke-width="1.2000000000000002"/>
<rect x="133.3" y="256.2" width="20.7" height="37.2" rx="0" fill="none" stroke="#141414" stroke-width="1.5"/>
<rect x="138.0" y="258.2" width="6.0" height="3.0" rx="0" fill="#888" stroke="#141414" stroke-width="1.2000000000000002"/>
<rect x="138.0" y="288.4" width="6.0" height="3.0" rx="0" fill="#888" stroke="#141414" stroke-width="1.2000000000000002"/>
<rect x="134.7" y="265.3" width="9.7" height="19.1" rx="0" fill="none" stroke="#2c2c2c" stroke-width="1.2000000000000002"/>
<circle cx="149.3" cy="262.1" r="1.50" fill="none" stroke="#141414" stroke-width="1.275"/>
<circle cx="149.3" cy="267.4" r="1.50" fill="none" stroke="#141414" stroke-width="1.275"/>
<circle cx="149.3" cy="272.6" r="1.50" fill="none" stroke="#141414" stroke-width="1.275"/>
<circle cx="149.3" cy="277.9" r="1.50" fill="none" stroke="#141414" stroke-width="1.275"/>
<circle cx="149.3" cy="283.1" r="1.50" fill="none" stroke="#141414" stroke-width="1.275"/>
<circle cx="149.3" cy="288.4" r="1.50" fill="none" stroke="#141414" stroke-width="1.275"/>
<path d="M133.3 272 l1.2 2 l-1.2 2" fill="#141414" stroke="#141414" stroke-width="1.2000000000000002" />
<line x1="132.7" y1="254.8" x2="132.7" y2="380.0" stroke="#141414" stroke-width="2.4000000000000004" />
<rect x="140.3" y="294.0" width="11.1" height="76.3" rx="0" fill="#2e2e2e" stroke="#141414" stroke-width="1.5"/>
<line x1="132.7" y1="370.3" x2="151.4" y2="370.3" stroke="#141414" stroke-width="1.5" />
<circle cx="143.3" cy="296.8" r="2.20" fill="#fff" stroke="#222" stroke-width="0.6000000000000001"/>
<circle cx="148.4" cy="296.8" r="2.20" fill="#fff" stroke="#222" stroke-width="0.6000000000000001"/>
<circle cx="143.3" cy="301.9" r="2.20" fill="#fff" stroke="#222" stroke-width="0.6000000000000001"/>
<circle cx="148.4" cy="301.9" r="2.20" fill="#fff" stroke="#222" stroke-width="0.6000000000000001"/>
<circle cx="143.3" cy="307.0" r="2.20" fill="#fff" stroke="#222" stroke-width="0.6000000000000001"/>
<circle cx="148.4" cy="307.0" r="2.20" fill="#fff" stroke="#222" stroke-width="0.6000000000000001"/>
<circle cx="143.3" cy="312.0" r="2.20" fill="#fff" stroke="#222" stroke-width="0.6000000000000001"/>
<circle cx="148.4" cy="312.0" r="2.20" fill="#fff" stroke="#222" stroke-width="0.6000000000000001"/>
<circle cx="143.3" cy="317.1" r="2.20" fill="#fff" stroke="#222" stroke-width="0.6000000000000001"/>
<circle cx="148.4" cy="317.1" r="2.20" fill="#fff" stroke="#222" stroke-width="0.6000000000000001"/>
<circle cx="143.3" cy="322.2" r="2.20" fill="#fff" stroke="#222" stroke-width="0.6000000000000001"/>
<circle cx="148.4" cy="322.2" r="2.20" fill="#fff" stroke="#222" stroke-width="0.6000000000000001"/>
<circle cx="143.3" cy="327.3" r="2.20" fill="#fff" stroke="#222" stroke-width="0.6000000000000001"/>
<circle cx="148.4" cy="327.3" r="2.20" fill="#fff" stroke="#222" stroke-width="0.6000000000000001"/>
<circle cx="143.3" cy="332.4" r="2.20" fill="#fff" stroke="#222" stroke-width="0.6000000000000001"/>
<circle cx="148.4" cy="332.4" r="2.20" fill="#fff" stroke="#222" stroke-width="0.6000000000000001"/>
<circle cx="143.3" cy="337.4" r="2.20" fill="#fff" stroke="#222" stroke-width="0.6000000000000001"/>
<circle cx="148.4" cy="337.4" r="2.20" fill="#fff" stroke="#222" stroke-width="0.6000000000000001"/>
<circle cx="143.3" cy="342.5" r="2.20" fill="#fff" stroke="#222" stroke-width="0.6000000000000001"/>
<circle cx="148.4" cy="342.5" r="2.20" fill="#fff" stroke="#222" stroke-width="0.6000000000000001"/>
<circle cx="143.3" cy="347.6" r="2.20" fill="#fff" stroke="#222" stroke-width="0.6000000000000001"/>
<circle cx="148.4" cy="347.6" r="2.20" fill="#fff" stroke="#222" stroke-width="0.6000000000000001"/>
<circle cx="143.3" cy="352.7" r="2.20" fill="#fff" stroke="#222" stroke-width="0.6000000000000001"/>
<circle cx="148.4" cy="352.7" r="2.20" fill="#fff" stroke="#222" stroke-width="0.6000000000000001"/>
<circle cx="143.3" cy="357.8" r="2.20" fill="#fff" stroke="#222" stroke-width="0.6000000000000001"/>
<circle cx="148.4" cy="357.8" r="2.20" fill="#fff" stroke="#222" stroke-width="0.6000000000000001"/>
<circle cx="143.3" cy="362.8" r="2.20" fill="#fff" stroke="#222" stroke-width="0.6000000000000001"/>
<circle cx="148.4" cy="362.8" r="2.20" fill="#fff" stroke="#222" stroke-width="0.6000000000000001"/>
<circle cx="143.3" cy="367.9" r="2.20" fill="#fff" stroke="#222" stroke-width="0.6000000000000001"/>
<circle cx="148.4" cy="367.9" r="2.20" fill="#fff" stroke="#222" stroke-width="0.6000000000000001"/>
<path d="M133.5 296.5 l3 1.5 l-3 1.5Z M137 295.5 l2.6 0 l-1.3 3Z" fill="#222"/>
<rect x="133.3" y="370.9" width="7.0" height="21.5" rx="0" fill="none" stroke="#141414" stroke-width="1.7999999999999998"/>
<circle cx="136.8" cy="375.3" r="1.50" fill="none" stroke="#141414" stroke-width="1.2000000000000002"/>
<circle cx="136.8" cy="379.7" r="1.50" fill="none" stroke="#141414" stroke-width="1.2000000000000002"/>
<circle cx="136.8" cy="384.1" r="1.50" fill="none" stroke="#141414" stroke-width="1.2000000000000002"/>
<rect x="135.3" y="386.8" width="3.0" height="3.0" rx="0" fill="none" stroke="#141414" stroke-width="1.2000000000000002"/>
<path d="M189.6 228.3 H227.4 V242.9 H222 V236 H194.8 V242.9 H189.6Z" fill="none" stroke="#141414" stroke-width="1.35" />
<line x1="189.6" y1="242.9" x2="227.4" y2="242.9" stroke="#141414" stroke-width="1.5" />
<rect x="189.6" y="229.6" width="3.8" height="5.6" rx="1" fill="#fff" stroke="#141414" stroke-width="1.2000000000000002"/>
<rect x="223.6" y="229.6" width="3.8" height="5.6" rx="1" fill="#fff" stroke="#141414" stroke-width="1.2000000000000002"/>
<rect x="196.0" y="239.2" width="24.0" height="3.0" rx="0" fill="#222" stroke="#141414" stroke-width="0.8999999999999999"/>
<circle cx="185.4" cy="246.4" r="2.60" fill="none" stroke="#141414" stroke-width="1.7999999999999998"/>
<circle cx="185.4" cy="246.4" r="1.10" fill="#999" stroke="#777" stroke-width="0.75"/>
<rect x="187.4" y="262.1" width="19.4" height="19.4" rx="1.5" fill="#fff" stroke="#141414" stroke-width="3.3000000000000003"/>
<rect x="189.5" y="264.2" width="15.2" height="15.2" rx="0" fill="none" stroke="#2c2c2c" stroke-width="1.0499999999999998"/>
<path d="M194.6 286.3 H201.9 V308.2 H193.9 V303.4 H190.4 V291.1 H194.6 Z" fill="#fff" stroke="#141414" stroke-width="1.35" />
<line x1="194.6" y1="291.1" x2="201.9" y2="291.1" stroke="#141414" stroke-width="1.2000000000000002" />
<line x1="193.9" y1="303.4" x2="201.9" y2="303.4" stroke="#141414" stroke-width="1.2000000000000002" />
<rect x="190.4" y="295.2" width="3.0" height="3.0" rx="0" fill="none" stroke="#141414" stroke-width="0.8999999999999999"/>
<rect x="190.4" y="298.2" width="3.0" height="3.0" rx="0" fill="none" stroke="#141414" stroke-width="0.8999999999999999"/>
<path d="M185.2 296.6 l4.2 2.2 l-4.2 2.2Z" fill="#141414"/>
<rect x="163.8" y="323.1" width="21.3" height="20.7" rx="0" fill="none" stroke="#141414" stroke-width="1.5"/>
<rect x="165.3" y="324.6" width="18.3" height="17.7" rx="0" fill="none" stroke="#2c2c2c" stroke-width="1.0499999999999998"/>
<rect x="167.6" y="327.3" width="13.7" height="12.7" rx="0" fill="none" stroke="#141414" stroke-width="1.5"/>
<line x1="163.0" y1="323.1" x2="164.6" y2="323.1" stroke="#141414" stroke-width="1.7999999999999998" />
<line x1="163.8" y1="322.3" x2="163.8" y2="323.9" stroke="#141414" stroke-width="1.7999999999999998" />
<line x1="184.3" y1="323.1" x2="185.9" y2="323.1" stroke="#141414" stroke-width="1.7999999999999998" />
<line x1="185.1" y1="322.3" x2="185.1" y2="323.9" stroke="#141414" stroke-width="1.7999999999999998" />
<line x1="163.0" y1="343.8" x2="164.6" y2="343.8" stroke="#141414" stroke-width="1.7999999999999998" />
<line x1="163.8" y1="343.0" x2="163.8" y2="344.6" stroke="#141414" stroke-width="1.7999999999999998" />
<line x1="184.3" y1="343.8" x2="185.9" y2="343.8" stroke="#141414" stroke-width="1.7999999999999998" />
<line x1="185.1" y1="343.0" x2="185.1" y2="344.6" stroke="#141414" stroke-width="1.7999999999999998" />
<rect x="217.6" y="303.1" width="21.1" height="20.5" rx="0" fill="#fff" stroke="#141414" stroke-width="1.2000000000000002"/>
<rect x="220.2" y="305.7" width="15.9" height="15.3" rx="0" fill="#fff" stroke="#141414" stroke-width="3.5999999999999996"/>
<circle cx="219.8" cy="305.3" r="0.50" fill="#fff" stroke="#fff" stroke-width="0.44999999999999996"/>
<circle cx="236.5" cy="305.3" r="0.50" fill="#fff" stroke="#fff" stroke-width="0.44999999999999996"/>
<circle cx="219.8" cy="321.4" r="0.50" fill="#fff" stroke="#fff" stroke-width="0.44999999999999996"/>
<circle cx="236.5" cy="321.4" r="0.50" fill="#fff" stroke="#fff" stroke-width="0.44999999999999996"/>
<path d="M218.1 353.2 H239.2 V358.2 M239.2 366.3 V371.3 H218.1 V366.3 M218.1 358.2 V353.2" fill="none" stroke="#141414" stroke-width="1.5" />
<rect x="216.5" y="358.2" width="7.2" height="9.1" rx="0" fill="#fff" stroke="#2c2c2c" stroke-width="1.2000000000000002"/>
<rect x="233.2" y="358.2" width="7.4" height="9.1" rx="0" fill="#fff" stroke="#2c2c2c" stroke-width="1.2000000000000002"/>
<path d="M156.4 371 H152.9 Q151.4 371 151.4 372.5 V390.5 Q151.4 392 152.9 392 H156.4 M165.4 371 H168.9 Q170.4 371 170.4 372.5 V390.5 Q170.4 392 168.9 392 H165.4" fill="none" stroke="#141414" stroke-width="1.5" />
<rect x="156.4" y="370.6" width="9.0" height="6.7" rx="0" fill="none" stroke="#141414" stroke-width="1.2000000000000002"/>
<rect x="156.4" y="386.3" width="9.0" height="6.7" rx="0" fill="none" stroke="#141414" stroke-width="1.2000000000000002"/>
<rect x="180.0" y="365.7" width="7.9" height="6.0" rx="0" fill="none" stroke="#141414" stroke-width="1.5"/>
<rect x="181.6" y="367.2" width="4.7" height="3.0" rx="0" fill="#999" stroke="#141414" stroke-width="0.8999999999999999"/>
<rect x="159.8" y="395.4" width="9.6" height="10.0" rx="0" fill="#333" stroke="#141414" stroke-width="1.2000000000000002"/>
<circle cx="164.6" cy="400.4" r="2.40" fill="#555" stroke="#ddd" stroke-width="0.8999999999999999"/>
<circle cx="164.6" cy="400.4" r="0.80" fill="#eee" stroke="#eee" stroke-width="0.6000000000000001"/>
<g transform="translate(313.7 328.2) rotate(45)">
<rect x="-24.47" y="-24.47" width="48.93" height="48.93" fill="url(#bga)" stroke="#1c1c1c" stroke-width="1.6"/>
<g transform="rotate(0)">
<line x1="-2.50" y1="-20.30" x2="-2.50" y2="-7.50" stroke="#fff" stroke-width="1.55"/>
<line x1="2.50" y1="-20.30" x2="2.50" y2="-7.50" stroke="#fff" stroke-width="1.55"/>
<line x1="-7.50" y1="-20.30" x2="-7.50" y2="-7.50" stroke="#fff" stroke-width="1.55"/>
<line x1="7.50" y1="-20.30" x2="7.50" y2="-7.50" stroke="#fff" stroke-width="1.55"/>
<line x1="-12.10" y1="-20.30" x2="-12.10" y2="-16.40" stroke="#fff" stroke-width="1.55"/>
<line x1="12.10" y1="-20.30" x2="12.10" y2="-16.40" stroke="#fff" stroke-width="1.55"/>
<circle cx="-10.80" cy="-10.80" r="0.72" fill="#fff"/>
<circle cx="-11.95" cy="-11.95" r="0.72" fill="#fff"/>
<circle cx="-13.10" cy="-13.10" r="0.72" fill="#fff"/>
<circle cx="-14.25" cy="-14.25" r="0.72" fill="#fff"/>
<circle cx="-15.40" cy="-15.40" r="0.72" fill="#fff"/>
<circle cx="-16.55" cy="-16.55" r="0.72" fill="#fff"/>
<circle cx="-17.70" cy="-17.70" r="0.72" fill="#fff"/>
<path d="M-18.8 -18.8 L-17.2 -18.4 L-18.4 -17.2Z" fill="#fff"/>
</g>
<g transform="rotate(90)">
<line x1="-2.50" y1="-20.30" x2="-2.50" y2="-7.50" stroke="#fff" stroke-width="1.55"/>
<line x1="2.50" y1="-20.30" x2="2.50" y2="-7.50" stroke="#fff" stroke-width="1.55"/>
<line x1="-7.50" y1="-20.30" x2="-7.50" y2="-7.50" stroke="#fff" stroke-width="1.55"/>
<line x1="7.50" y1="-20.30" x2="7.50" y2="-7.50" stroke="#fff" stroke-width="1.55"/>
<line x1="-12.10" y1="-20.30" x2="-12.10" y2="-16.40" stroke="#fff" stroke-width="1.55"/>
<line x1="12.10" y1="-20.30" x2="12.10" y2="-16.40" stroke="#fff" stroke-width="1.55"/>
<circle cx="-10.80" cy="-10.80" r="0.72" fill="#fff"/>
<circle cx="-11.95" cy="-11.95" r="0.72" fill="#fff"/>
<circle cx="-13.10" cy="-13.10" r="0.72" fill="#fff"/>
<circle cx="-14.25" cy="-14.25" r="0.72" fill="#fff"/>
<circle cx="-15.40" cy="-15.40" r="0.72" fill="#fff"/>
<circle cx="-16.55" cy="-16.55" r="0.72" fill="#fff"/>
<circle cx="-17.70" cy="-17.70" r="0.72" fill="#fff"/>
<path d="M-18.8 -18.8 L-17.2 -18.4 L-18.4 -17.2Z" fill="#fff"/>
</g>
<g transform="rotate(180)">
<line x1="-2.50" y1="-20.30" x2="-2.50" y2="-7.50" stroke="#fff" stroke-width="1.55"/>
<line x1="2.50" y1="-20.30" x2="2.50" y2="-7.50" stroke="#fff" stroke-width="1.55"/>
<line x1="-7.50" y1="-20.30" x2="-7.50" y2="-7.50" stroke="#fff" stroke-width="1.55"/>
<line x1="7.50" y1="-20.30" x2="7.50" y2="-7.50" stroke="#fff" stroke-width="1.55"/>
<line x1="-12.10" y1="-20.30" x2="-12.10" y2="-16.40" stroke="#fff" stroke-width="1.55"/>
<line x1="12.10" y1="-20.30" x2="12.10" y2="-16.40" stroke="#fff" stroke-width="1.55"/>
<circle cx="-10.80" cy="-10.80" r="0.72" fill="#fff"/>
<circle cx="-11.95" cy="-11.95" r="0.72" fill="#fff"/>
<circle cx="-13.10" cy="-13.10" r="0.72" fill="#fff"/>
<circle cx="-14.25" cy="-14.25" r="0.72" fill="#fff"/>
<circle cx="-15.40" cy="-15.40" r="0.72" fill="#fff"/>
<circle cx="-16.55" cy="-16.55" r="0.72" fill="#fff"/>
<circle cx="-17.70" cy="-17.70" r="0.72" fill="#fff"/>
<path d="M-18.8 -18.8 L-17.2 -18.4 L-18.4 -17.2Z" fill="#fff"/>
</g>
<g transform="rotate(270)">
<line x1="-2.50" y1="-20.30" x2="-2.50" y2="-7.50" stroke="#fff" stroke-width="1.55"/>
<line x1="2.50" y1="-20.30" x2="2.50" y2="-7.50" stroke="#fff" stroke-width="1.55"/>
<line x1="-7.50" y1="-20.30" x2="-7.50" y2="-7.50" stroke="#fff" stroke-width="1.55"/>
<line x1="7.50" y1="-20.30" x2="7.50" y2="-7.50" stroke="#fff" stroke-width="1.55"/>
<line x1="-12.10" y1="-20.30" x2="-12.10" y2="-16.40" stroke="#fff" stroke-width="1.55"/>
<line x1="12.10" y1="-20.30" x2="12.10" y2="-16.40" stroke="#fff" stroke-width="1.55"/>
<circle cx="-10.80" cy="-10.80" r="0.72" fill="#fff"/>
<circle cx="-11.95" cy="-11.95" r="0.72" fill="#fff"/>
<circle cx="-13.10" cy="-13.10" r="0.72" fill="#fff"/>
<circle cx="-14.25" cy="-14.25" r="0.72" fill="#fff"/>
<circle cx="-15.40" cy="-15.40" r="0.72" fill="#fff"/>
<circle cx="-16.55" cy="-16.55" r="0.72" fill="#fff"/>
<circle cx="-17.70" cy="-17.70" r="0.72" fill="#fff"/>
<path d="M-18.8 -18.8 L-17.2 -18.4 L-18.4 -17.2Z" fill="#fff"/>
</g>
</g>
<rect x="314.0" y="217.0" width="103.5" height="25.8" rx="0" fill="#fff" stroke="#141414" stroke-width="1.9500000000000002"/>
<line x1="313.7" y1="226.5" x2="417.5" y2="226.5" stroke="#141414" stroke-width="1.5" />
<line x1="313.7" y1="231.7" x2="417.5" y2="231.7" stroke="#141414" stroke-width="1.35" />
<rect x="313.7" y="232.2" width="103.8" height="10.6" rx="0" fill="#fff" stroke="#141414" stroke-width="1.35"/>
<circle cx="317.30" cy="235.0" r="1.9" fill="#fff" stroke="#262626" stroke-width="0.8"/>
<circle cx="317.30" cy="239.9" r="1.9" fill="#fff" stroke="#262626" stroke-width="0.8"/>
<circle cx="322.37" cy="235.0" r="1.9" fill="#fff" stroke="#262626" stroke-width="0.8"/>
<circle cx="322.37" cy="239.9" r="1.9" fill="#fff" stroke="#262626" stroke-width="0.8"/>
<circle cx="327.44" cy="235.0" r="1.9" fill="#fff" stroke="#262626" stroke-width="0.8"/>
<circle cx="327.44" cy="239.9" r="1.9" fill="#fff" stroke="#262626" stroke-width="0.8"/>
<circle cx="332.51" cy="235.0" r="1.9" fill="#fff" stroke="#262626" stroke-width="0.8"/>
<circle cx="332.51" cy="239.9" r="1.9" fill="#fff" stroke="#262626" stroke-width="0.8"/>
<circle cx="337.58" cy="235.0" r="1.9" fill="#fff" stroke="#262626" stroke-width="0.8"/>
<circle cx="337.58" cy="239.9" r="1.9" fill="#fff" stroke="#262626" stroke-width="0.8"/>
<circle cx="342.65" cy="235.0" r="1.9" fill="#fff" stroke="#262626" stroke-width="0.8"/>
<circle cx="342.65" cy="239.9" r="1.9" fill="#fff" stroke="#262626" stroke-width="0.8"/>
<circle cx="347.72" cy="235.0" r="1.9" fill="#fff" stroke="#262626" stroke-width="0.8"/>
<circle cx="347.72" cy="239.9" r="1.9" fill="#fff" stroke="#262626" stroke-width="0.8"/>
<circle cx="352.79" cy="235.0" r="1.9" fill="#fff" stroke="#262626" stroke-width="0.8"/>
<circle cx="352.79" cy="239.9" r="1.9" fill="#fff" stroke="#262626" stroke-width="0.8"/>
<circle cx="357.86" cy="235.0" r="1.9" fill="#fff" stroke="#262626" stroke-width="0.8"/>
<circle cx="357.86" cy="239.9" r="1.9" fill="#fff" stroke="#262626" stroke-width="0.8"/>
<circle cx="362.93" cy="235.0" r="1.9" fill="#fff" stroke="#262626" stroke-width="0.8"/>
<circle cx="362.93" cy="239.9" r="1.9" fill="#fff" stroke="#262626" stroke-width="0.8"/>
<circle cx="368.00" cy="235.0" r="1.9" fill="#fff" stroke="#262626" stroke-width="0.8"/>
<circle cx="368.00" cy="239.9" r="1.9" fill="#fff" stroke="#262626" stroke-width="0.8"/>
<circle cx="373.07" cy="235.0" r="1.9" fill="#fff" stroke="#262626" stroke-width="0.8"/>
<circle cx="373.07" cy="239.9" r="1.9" fill="#fff" stroke="#262626" stroke-width="0.8"/>
<circle cx="378.14" cy="235.0" r="1.9" fill="#fff" stroke="#262626" stroke-width="0.8"/>
<circle cx="378.14" cy="239.9" r="1.9" fill="#fff" stroke="#262626" stroke-width="0.8"/>
<circle cx="383.21" cy="235.0" r="1.9" fill="#fff" stroke="#262626" stroke-width="0.8"/>
<circle cx="383.21" cy="239.9" r="1.9" fill="#fff" stroke="#262626" stroke-width="0.8"/>
<circle cx="388.28" cy="235.0" r="1.9" fill="#fff" stroke="#262626" stroke-width="0.8"/>
<circle cx="388.28" cy="239.9" r="1.9" fill="#fff" stroke="#262626" stroke-width="0.8"/>
<circle cx="393.35" cy="235.0" r="1.9" fill="#fff" stroke="#262626" stroke-width="0.8"/>
<circle cx="393.35" cy="239.9" r="1.9" fill="#fff" stroke="#262626" stroke-width="0.8"/>
<circle cx="398.42" cy="235.0" r="1.9" fill="#fff" stroke="#262626" stroke-width="0.8"/>
<circle cx="398.42" cy="239.9" r="1.9" fill="#fff" stroke="#262626" stroke-width="0.8"/>
<circle cx="403.49" cy="235.0" r="1.9" fill="#fff" stroke="#262626" stroke-width="0.8"/>
<circle cx="403.49" cy="239.9" r="1.9" fill="#fff" stroke="#262626" stroke-width="0.8"/>
<circle cx="408.56" cy="235.0" r="1.9" fill="#fff" stroke="#262626" stroke-width="0.8"/>
<circle cx="408.56" cy="239.9" r="1.9" fill="#fff" stroke="#262626" stroke-width="0.8"/>
<circle cx="413.63" cy="235.0" r="1.9" fill="#fff" stroke="#262626" stroke-width="0.8"/>
<circle cx="413.63" cy="239.9" r="1.9" fill="#fff" stroke="#262626" stroke-width="0.8"/>
<path d="M319.84 236.4 l1 1 l-1 1 l-1 -1Z M319.84 241.2 l1.2 1.2 h-2.4Z M319.84 233.8 l1.2 -1.2 h-2.4Z" fill="#fff"/>
<path d="M324.91 236.4 l1 1 l-1 1 l-1 -1Z M324.91 241.2 l1.2 1.2 h-2.4Z M324.91 233.8 l1.2 -1.2 h-2.4Z" fill="#fff"/>
<path d="M329.98 236.4 l1 1 l-1 1 l-1 -1Z M329.98 241.2 l1.2 1.2 h-2.4Z M329.98 233.8 l1.2 -1.2 h-2.4Z" fill="#fff"/>
<path d="M335.05 236.4 l1 1 l-1 1 l-1 -1Z M335.05 241.2 l1.2 1.2 h-2.4Z M335.05 233.8 l1.2 -1.2 h-2.4Z" fill="#fff"/>
<path d="M340.12 236.4 l1 1 l-1 1 l-1 -1Z M340.12 241.2 l1.2 1.2 h-2.4Z M340.12 233.8 l1.2 -1.2 h-2.4Z" fill="#fff"/>
<path d="M345.19 236.4 l1 1 l-1 1 l-1 -1Z M345.19 241.2 l1.2 1.2 h-2.4Z M345.19 233.8 l1.2 -1.2 h-2.4Z" fill="#fff"/>
<path d="M350.26 236.4 l1 1 l-1 1 l-1 -1Z M350.26 241.2 l1.2 1.2 h-2.4Z M350.26 233.8 l1.2 -1.2 h-2.4Z" fill="#fff"/>
<path d="M355.33 236.4 l1 1 l-1 1 l-1 -1Z M355.33 241.2 l1.2 1.2 h-2.4Z M355.33 233.8 l1.2 -1.2 h-2.4Z" fill="#fff"/>
<path d="M360.40 236.4 l1 1 l-1 1 l-1 -1Z M360.40 241.2 l1.2 1.2 h-2.4Z M360.40 233.8 l1.2 -1.2 h-2.4Z" fill="#fff"/>
<path d="M365.47 236.4 l1 1 l-1 1 l-1 -1Z M365.47 241.2 l1.2 1.2 h-2.4Z M365.47 233.8 l1.2 -1.2 h-2.4Z" fill="#fff"/>
<path d="M370.54 236.4 l1 1 l-1 1 l-1 -1Z M370.54 241.2 l1.2 1.2 h-2.4Z M370.54 233.8 l1.2 -1.2 h-2.4Z" fill="#fff"/>
<path d="M375.61 236.4 l1 1 l-1 1 l-1 -1Z M375.61 241.2 l1.2 1.2 h-2.4Z M375.61 233.8 l1.2 -1.2 h-2.4Z" fill="#fff"/>
<path d="M380.68 236.4 l1 1 l-1 1 l-1 -1Z M380.68 241.2 l1.2 1.2 h-2.4Z M380.68 233.8 l1.2 -1.2 h-2.4Z" fill="#fff"/>
<path d="M385.75 236.4 l1 1 l-1 1 l-1 -1Z M385.75 241.2 l1.2 1.2 h-2.4Z M385.75 233.8 l1.2 -1.2 h-2.4Z" fill="#fff"/>
<path d="M390.82 236.4 l1 1 l-1 1 l-1 -1Z M390.82 241.2 l1.2 1.2 h-2.4Z M390.82 233.8 l1.2 -1.2 h-2.4Z" fill="#fff"/>
<path d="M395.89 236.4 l1 1 l-1 1 l-1 -1Z M395.89 241.2 l1.2 1.2 h-2.4Z M395.89 233.8 l1.2 -1.2 h-2.4Z" fill="#fff"/>
<path d="M400.96 236.4 l1 1 l-1 1 l-1 -1Z M400.96 241.2 l1.2 1.2 h-2.4Z M400.96 233.8 l1.2 -1.2 h-2.4Z" fill="#fff"/>
<path d="M406.03 236.4 l1 1 l-1 1 l-1 -1Z M406.03 241.2 l1.2 1.2 h-2.4Z M406.03 233.8 l1.2 -1.2 h-2.4Z" fill="#fff"/>
<path d="M411.10 236.4 l1 1 l-1 1 l-1 -1Z M411.10 241.2 l1.2 1.2 h-2.4Z M411.10 233.8 l1.2 -1.2 h-2.4Z" fill="#fff"/>
<path d="M416.17 236.4 l1 1 l-1 1 l-1 -1Z M416.17 241.2 l1.2 1.2 h-2.4Z M416.17 233.8 l1.2 -1.2 h-2.4Z" fill="#fff"/>
<rect x="418.6" y="227.0" width="26.2" height="14.8" rx="0" fill="none" stroke="#141414" stroke-width="1.7999999999999998"/>
<rect x="420.2" y="234.3" width="23.0" height="6.3" rx="0" fill="none" stroke="#141414" stroke-width="1.2000000000000002"/>
<rect x="421.7" y="230.7" width="2.8" height="2.8" rx="0" fill="none" stroke="#141414" stroke-width="1.2000000000000002"/>
<circle cx="428.8" cy="232.1" r="1.50" fill="none" stroke="#141414" stroke-width="1.2000000000000002"/>
<circle cx="434.6" cy="232.1" r="1.50" fill="none" stroke="#141414" stroke-width="1.2000000000000002"/>
<circle cx="440.3" cy="232.1" r="1.50" fill="none" stroke="#141414" stroke-width="1.2000000000000002"/>
<rect x="419.6" y="227.4" width="24.2" height="2.0" fill="#6a6a6a"/>
<rect x="421.1" y="227.3" width="3.6" height="2.6" fill="#222"/>
<rect x="446.6" y="227.0" width="24.4" height="14.8" rx="0" fill="none" stroke="#141414" stroke-width="1.7999999999999998"/>
<rect x="448.2" y="234.3" width="21.2" height="6.3" rx="0" fill="none" stroke="#141414" stroke-width="1.2000000000000002"/>
<rect x="449.7" y="230.7" width="2.8" height="2.8" rx="0" fill="none" stroke="#141414" stroke-width="1.2000000000000002"/>
<circle cx="456.2" cy="232.1" r="1.50" fill="none" stroke="#141414" stroke-width="1.2000000000000002"/>
<circle cx="461.4" cy="232.1" r="1.50" fill="none" stroke="#141414" stroke-width="1.2000000000000002"/>
<circle cx="466.5" cy="232.1" r="1.50" fill="none" stroke="#141414" stroke-width="1.2000000000000002"/>
<rect x="447.6" y="227.4" width="22.4" height="2.0" fill="#6a6a6a"/>
<rect x="449.1" y="227.3" width="3.6" height="2.6" fill="#222"/>
<rect x="473.4" y="227.0" width="25.8" height="14.8" rx="0" fill="none" stroke="#141414" stroke-width="1.7999999999999998"/>
<rect x="475.0" y="234.3" width="22.6" height="6.3" rx="0" fill="none" stroke="#141414" stroke-width="1.2000000000000002"/>
<rect x="476.5" y="230.7" width="2.8" height="2.8" rx="0" fill="none" stroke="#141414" stroke-width="1.2000000000000002"/>
<circle cx="483.5" cy="232.1" r="1.50" fill="none" stroke="#141414" stroke-width="1.2000000000000002"/>
<circle cx="489.1" cy="232.1" r="1.50" fill="none" stroke="#141414" stroke-width="1.2000000000000002"/>
<circle cx="494.7" cy="232.1" r="1.50" fill="none" stroke="#141414" stroke-width="1.2000000000000002"/>
<rect x="474.4" y="227.4" width="23.8" height="2.0" fill="#6a6a6a"/>
<rect x="475.9" y="227.3" width="3.6" height="2.6" fill="#222"/>
<line x1="417.5" y1="242.7" x2="547.5" y2="242.7" stroke="#141414" stroke-width="1.5" />
<circle cx="399" cy="250.3" r="9.4" fill="#fff"/>
<circle cx="399.0" cy="250.3" r="8.50" fill="none" stroke="#141414" stroke-width="2.8499999999999996"/>
<circle cx="399.0" cy="250.3" r="5.10" fill="none" stroke="#141414" stroke-width="1.275"/>
<circle cx="481.8" cy="250.3" r="9.4" fill="#fff"/>
<circle cx="481.8" cy="250.3" r="8.50" fill="none" stroke="#141414" stroke-width="2.8499999999999996"/>
<circle cx="481.8" cy="250.3" r="5.10" fill="none" stroke="#141414" stroke-width="1.275"/>
<rect x="416.8" y="266.3" width="13.7" height="14.0" rx="0" fill="none" stroke="#2c2c2c" stroke-width="1.0499999999999998"/>
<rect x="419.0" y="268.5" width="9.3" height="9.6" rx="0" fill="#fff" stroke="#141414" stroke-width="3.0"/>
<line x1="415.8" y1="266.3" x2="417.8" y2="266.3" stroke="#141414" stroke-width="1.5" />
<line x1="416.8" y1="265.3" x2="416.8" y2="267.3" stroke="#141414" stroke-width="1.5" />
<line x1="429.5" y1="266.3" x2="431.5" y2="266.3" stroke="#141414" stroke-width="1.5" />
<line x1="430.5" y1="265.3" x2="430.5" y2="267.3" stroke="#141414" stroke-width="1.5" />
<line x1="415.8" y1="280.3" x2="417.8" y2="280.3" stroke="#141414" stroke-width="1.5" />
<line x1="416.8" y1="279.3" x2="416.8" y2="281.3" stroke="#141414" stroke-width="1.5" />
<line x1="429.5" y1="280.3" x2="431.5" y2="280.3" stroke="#141414" stroke-width="1.5" />
<line x1="430.5" y1="279.3" x2="430.5" y2="281.3" stroke="#141414" stroke-width="1.5" />
<rect x="497.0" y="266.9" width="14.0" height="14.1" rx="0" fill="none" stroke="#2c2c2c" stroke-width="1.0499999999999998"/>
<rect x="499.2" y="269.1" width="9.6" height="9.7" rx="0" fill="#fff" stroke="#141414" stroke-width="3.0"/>
<line x1="496.0" y1="266.9" x2="498.0" y2="266.9" stroke="#141414" stroke-width="1.5" />
<line x1="497.0" y1="265.9" x2="497.0" y2="267.9" stroke="#141414" stroke-width="1.5" />
<line x1="510.0" y1="266.9" x2="512.0" y2="266.9" stroke="#141414" stroke-width="1.5" />
<line x1="511.0" y1="265.9" x2="511.0" y2="267.9" stroke="#141414" stroke-width="1.5" />
<line x1="496.0" y1="281.0" x2="498.0" y2="281.0" stroke="#141414" stroke-width="1.5" />
<line x1="497.0" y1="280.0" x2="497.0" y2="282.0" stroke="#141414" stroke-width="1.5" />
<line x1="510.0" y1="281.0" x2="512.0" y2="281.0" stroke="#141414" stroke-width="1.5" />
<line x1="511.0" y1="280.0" x2="511.0" y2="282.0" stroke="#141414" stroke-width="1.5" />
<rect x="485.3" y="328.7" width="16.7" height="15.5" rx="0" fill="none" stroke="#2c2c2c" stroke-width="1.0499999999999998"/>
<rect x="487.5" y="330.9" width="12.3" height="11.1" rx="0" fill="#fff" stroke="#141414" stroke-width="3.0"/>
<line x1="484.3" y1="328.7" x2="486.3" y2="328.7" stroke="#141414" stroke-width="1.5" />
<line x1="485.3" y1="327.7" x2="485.3" y2="329.7" stroke="#141414" stroke-width="1.5" />
<line x1="501.0" y1="328.7" x2="503.0" y2="328.7" stroke="#141414" stroke-width="1.5" />
<line x1="502.0" y1="327.7" x2="502.0" y2="329.7" stroke="#141414" stroke-width="1.5" />
<line x1="484.3" y1="344.2" x2="486.3" y2="344.2" stroke="#141414" stroke-width="1.5" />
<line x1="485.3" y1="343.2" x2="485.3" y2="345.2" stroke="#141414" stroke-width="1.5" />
<line x1="501.0" y1="344.2" x2="503.0" y2="344.2" stroke="#141414" stroke-width="1.5" />
<line x1="502.0" y1="343.2" x2="502.0" y2="345.2" stroke="#141414" stroke-width="1.5" />
<rect x="532.9" y="328.7" width="16.6" height="15.5" rx="0" fill="none" stroke="#2c2c2c" stroke-width="1.0499999999999998"/>
<rect x="535.1" y="330.9" width="12.2" height="11.1" rx="0" fill="#fff" stroke="#141414" stroke-width="3.0"/>
<line x1="531.9" y1="328.7" x2="533.9" y2="328.7" stroke="#141414" stroke-width="1.5" />
<line x1="532.9" y1="327.7" x2="532.9" y2="329.7" stroke="#141414" stroke-width="1.5" />
<line x1="548.5" y1="328.7" x2="550.5" y2="328.7" stroke="#141414" stroke-width="1.5" />
<line x1="549.5" y1="327.7" x2="549.5" y2="329.7" stroke="#141414" stroke-width="1.5" />
<line x1="531.9" y1="344.2" x2="533.9" y2="344.2" stroke="#141414" stroke-width="1.5" />
<line x1="532.9" y1="343.2" x2="532.9" y2="345.2" stroke="#141414" stroke-width="1.5" />
<line x1="548.5" y1="344.2" x2="550.5" y2="344.2" stroke="#141414" stroke-width="1.5" />
<line x1="549.5" y1="343.2" x2="549.5" y2="345.2" stroke="#141414" stroke-width="1.5" />
<line x1="391.8" y1="271.0" x2="391.8" y2="313.0" stroke="#141414" stroke-width="2.0999999999999996" />
<line x1="391.8" y1="348.2" x2="391.8" y2="387.3" stroke="#141414" stroke-width="2.0999999999999996" />
<line x1="398.4" y1="303.0" x2="550.8" y2="303.0" stroke="#141414" stroke-width="1.7999999999999998" />
<line x1="468.2" y1="242.7" x2="468.2" y2="387.3" stroke="#141414" stroke-width="1.5" />
<line x1="474.2" y1="242.7" x2="474.2" y2="387.3" stroke="#141414" stroke-width="1.5" />
<line x1="551.0" y1="287.0" x2="551.0" y2="387.3" stroke="#141414" stroke-width="1.5" />
<line x1="551.0" y1="243.0" x2="551.0" y2="248.0" stroke="#141414" stroke-width="1.5" />
<circle cx="460.8" cy="311" r="8.8" fill="#fff"/>
<circle cx="460.8" cy="311.0" r="7.60" fill="none" stroke="#141414" stroke-width="2.4000000000000004"/>
<circle cx="460.8" cy="311.0" r="4.90" fill="none" stroke="#141414" stroke-width="1.2000000000000002"/>
<rect x="470.2" y="296.0" width="13.1" height="15.0" rx="0" fill="none" stroke="#2c2c2c" stroke-width="1.2000000000000002"/>
<circle cx="481.8" cy="311.0" r="8.00" fill="none" stroke="#141414" stroke-width="1.5"/>
<circle cx="542.9" cy="311.0" r="8.00" fill="none" stroke="#141414" stroke-width="1.5"/>
<rect x="427.8" y="326.1" width="19.0" height="21.5" rx="0" fill="none" stroke="#141414" stroke-width="1.7999999999999998"/>
<path d="M431.3 326.1 V330.1 L435.7 336.1 V345.6 M443.3 326.1 V330.1 L438.9 336.1 V345.6" fill="none" stroke="#2c2c2c" stroke-width="1.2000000000000002" />
<path d="M430.4 347.6 V344.4 Q432.0 342.6 433.6 344.4 V347.6 M444.2 347.6 V344.4 Q442.6 342.6 441.0 344.4 V347.6" fill="none" stroke="#2c2c2c" stroke-width="1.0499999999999998" />
<line x1="391.8" y1="357.4" x2="468.2" y2="357.4" stroke="#141414" stroke-width="1.7999999999999998" />
<line x1="474.2" y1="357.4" x2="551.0" y2="357.4" stroke="#141414" stroke-width="1.7999999999999998" />
<line x1="391.8" y1="387.3" x2="551.0" y2="387.3" stroke="#141414" stroke-width="1.7999999999999998" />
<path d="M400.30 359.6V364.9M402.09 359.6V364.9M403.88 359.6V364.9M405.67 359.6V364.9M407.46 359.6V364.9M409.24 359.6V364.9M411.03 359.6V364.9M412.82 359.6V364.9M414.61 359.6V364.9" stroke="#111" stroke-width="1.05" fill="none"/>
<path d="M424.50 359.6V364.9M426.27 359.6V364.9M428.04 359.6V364.9M429.81 359.6V364.9M431.59 359.6V364.9M433.36 359.6V364.9M435.13 359.6V364.9M436.90 359.6V364.9M438.67 359.6V364.9M440.44 359.6V364.9M442.21 359.6V364.9M443.99 359.6V364.9M445.76 359.6V364.9M447.53 359.6V364.9M449.30 359.6V364.9M451.07 359.6V364.9M452.84 359.6V364.9M454.61 359.6V364.9M456.39 359.6V364.9M458.16 359.6V364.9M459.93 359.6V364.9" stroke="#111" stroke-width="1.05" fill="none"/>
<path d="M399.70 380.3V385.3M401.46 380.3V385.3M403.21 380.3V385.3M404.97 380.3V385.3M406.72 380.3V385.3M408.48 380.3V385.3M410.23 380.3V385.3M411.99 380.3V385.3M413.74 380.3V385.3" stroke="#111" stroke-width="1.05" fill="none"/>
<path d="M423.50 380.3V385.3M425.27 380.3V385.3M427.04 380.3V385.3M428.81 380.3V385.3M430.59 380.3V385.3M432.36 380.3V385.3M434.13 380.3V385.3M435.90 380.3V385.3M437.67 380.3V385.3M439.44 380.3V385.3M441.21 380.3V385.3M442.99 380.3V385.3M444.76 380.3V385.3M446.53 380.3V385.3M448.30 380.3V385.3M450.07 380.3V385.3M451.84 380.3V385.3M453.61 380.3V385.3M455.39 380.3V385.3M457.16 380.3V385.3M458.93 380.3V385.3" stroke="#111" stroke-width="1.05" fill="none"/>
<path d="M482.70 359.6V364.9M484.56 359.6V364.9M486.41 359.6V364.9M488.27 359.6V364.9M490.12 359.6V364.9M491.98 359.6V364.9M493.83 359.6V364.9M495.69 359.6V364.9M497.54 359.6V364.9" stroke="#111" stroke-width="1.05" fill="none"/>
<path d="M507.20 359.6V364.9M509.04 359.6V364.9M510.88 359.6V364.9M512.72 359.6V364.9M514.56 359.6V364.9M516.40 359.6V364.9M518.24 359.6V364.9M520.08 359.6V364.9M521.92 359.6V364.9M523.76 359.6V364.9M525.60 359.6V364.9M527.44 359.6V364.9M529.28 359.6V364.9M531.12 359.6V364.9M532.96 359.6V364.9M534.80 359.6V364.9M536.64 359.6V364.9M538.48 359.6V364.9M540.32 359.6V364.9M542.16 359.6V364.9" stroke="#111" stroke-width="1.05" fill="none"/>
<path d="M481.70 380.3V385.3M483.56 380.3V385.3M485.41 380.3V385.3M487.27 380.3V385.3M489.12 380.3V385.3M490.98 380.3V385.3M492.83 380.3V385.3M494.69 380.3V385.3M496.54 380.3V385.3" stroke="#111" stroke-width="1.05" fill="none"/>
<path d="M506.40 380.3V385.3M508.23 380.3V385.3M510.06 380.3V385.3M511.89 380.3V385.3M513.72 380.3V385.3M515.55 380.3V385.3M517.38 380.3V385.3M519.21 380.3V385.3M521.04 380.3V385.3M522.87 380.3V385.3M524.70 380.3V385.3M526.53 380.3V385.3M528.36 380.3V385.3M530.19 380.3V385.3M532.02 380.3V385.3M533.85 380.3V385.3M535.68 380.3V385.3M537.51 380.3V385.3M539.34 380.3V385.3M541.17 380.3V385.3" stroke="#111" stroke-width="1.05" fill="none"/>
<circle cx="398.0" cy="372.3" r="1.90" fill="none" stroke="#141414" stroke-width="1.35"/>
<circle cx="461.8" cy="372.3" r="1.90" fill="none" stroke="#141414" stroke-width="1.35"/>
<circle cx="480.6" cy="372.3" r="2.50" fill="none" stroke="#141414" stroke-width="1.35"/>
<circle cx="544.5" cy="372.3" r="1.90" fill="none" stroke="#141414" stroke-width="1.35"/>
<rect x="389.4" y="377.3" width="6.0" height="8.0" rx="0" fill="#fff" stroke="#141414" stroke-width="1.35"/>
<rect x="463.8" y="377.3" width="6.0" height="8.0" rx="0" fill="#fff" stroke="#141414" stroke-width="1.35"/>
<rect x="472.6" y="377.3" width="6.0" height="8.0" rx="0" fill="#fff" stroke="#141414" stroke-width="1.35"/>
<rect x="546.9" y="377.3" width="6.0" height="8.0" rx="0" fill="#fff" stroke="#141414" stroke-width="1.35"/>
<path d="M468.2 385.3 V389 M474.2 385.3 V389 M551 385.3 V389" fill="none" stroke="#141414" stroke-width="1.2000000000000002" />
<rect x="538.2" y="256.0" width="28.6" height="28.2" rx="0" fill="none" stroke="#141414" stroke-width="1.35"/>
<line x1="539.6" y1="253.2" x2="539.6" y2="256.4" stroke="#141414" stroke-width="1.08" />
<line x1="539.6" y1="283.8" x2="539.6" y2="287.0" stroke="#141414" stroke-width="1.08" />
<line x1="535.4" y1="257.4" x2="538.6" y2="257.4" stroke="#141414" stroke-width="1.08" />
<line x1="566.4" y1="257.4" x2="569.6" y2="257.4" stroke="#141414" stroke-width="1.08" />
<line x1="541.3" y1="253.2" x2="541.3" y2="256.4" stroke="#141414" stroke-width="1.08" />
<line x1="541.3" y1="283.8" x2="541.3" y2="287.0" stroke="#141414" stroke-width="1.08" />
<line x1="535.4" y1="259.1" x2="538.6" y2="259.1" stroke="#141414" stroke-width="1.08" />
<line x1="566.4" y1="259.1" x2="569.6" y2="259.1" stroke="#141414" stroke-width="1.08" />
<line x1="543.0" y1="253.2" x2="543.0" y2="256.4" stroke="#141414" stroke-width="1.08" />
<line x1="543.0" y1="283.8" x2="543.0" y2="287.0" stroke="#141414" stroke-width="1.08" />
<line x1="535.4" y1="260.8" x2="538.6" y2="260.8" stroke="#141414" stroke-width="1.08" />
<line x1="566.4" y1="260.8" x2="569.6" y2="260.8" stroke="#141414" stroke-width="1.08" />
<line x1="544.8" y1="253.2" x2="544.8" y2="256.4" stroke="#141414" stroke-width="1.08" />
<line x1="544.8" y1="283.8" x2="544.8" y2="287.0" stroke="#141414" stroke-width="1.08" />
<line x1="535.4" y1="262.5" x2="538.6" y2="262.5" stroke="#141414" stroke-width="1.08" />
<line x1="566.4" y1="262.5" x2="569.6" y2="262.5" stroke="#141414" stroke-width="1.08" />
<line x1="546.5" y1="253.2" x2="546.5" y2="256.4" stroke="#141414" stroke-width="1.08" />
<line x1="546.5" y1="283.8" x2="546.5" y2="287.0" stroke="#141414" stroke-width="1.08" />
<line x1="535.4" y1="264.2" x2="538.6" y2="264.2" stroke="#141414" stroke-width="1.08" />
<line x1="566.4" y1="264.2" x2="569.6" y2="264.2" stroke="#141414" stroke-width="1.08" />
<line x1="548.2" y1="253.2" x2="548.2" y2="256.4" stroke="#141414" stroke-width="1.08" />
<line x1="548.2" y1="283.8" x2="548.2" y2="287.0" stroke="#141414" stroke-width="1.08" />
<line x1="535.4" y1="265.9" x2="538.6" y2="265.9" stroke="#141414" stroke-width="1.08" />
<line x1="566.4" y1="265.9" x2="569.6" y2="265.9" stroke="#141414" stroke-width="1.08" />
<line x1="549.9" y1="253.2" x2="549.9" y2="256.4" stroke="#141414" stroke-width="1.08" />
<line x1="549.9" y1="283.8" x2="549.9" y2="287.0" stroke="#141414" stroke-width="1.08" />
<line x1="535.4" y1="267.6" x2="538.6" y2="267.6" stroke="#141414" stroke-width="1.08" />
<line x1="566.4" y1="267.6" x2="569.6" y2="267.6" stroke="#141414" stroke-width="1.08" />
<line x1="551.6" y1="253.2" x2="551.6" y2="256.4" stroke="#141414" stroke-width="1.08" />
<line x1="551.6" y1="283.8" x2="551.6" y2="287.0" stroke="#141414" stroke-width="1.08" />
<line x1="535.4" y1="269.3" x2="538.6" y2="269.3" stroke="#141414" stroke-width="1.08" />
<line x1="566.4" y1="269.3" x2="569.6" y2="269.3" stroke="#141414" stroke-width="1.08" />
<line x1="553.4" y1="253.2" x2="553.4" y2="256.4" stroke="#141414" stroke-width="1.08" />
<line x1="553.4" y1="283.8" x2="553.4" y2="287.0" stroke="#141414" stroke-width="1.08" />
<line x1="535.4" y1="270.9" x2="538.6" y2="270.9" stroke="#141414" stroke-width="1.08" />
<line x1="566.4" y1="270.9" x2="569.6" y2="270.9" stroke="#141414" stroke-width="1.08" />
<line x1="555.1" y1="253.2" x2="555.1" y2="256.4" stroke="#141414" stroke-width="1.08" />
<line x1="555.1" y1="283.8" x2="555.1" y2="287.0" stroke="#141414" stroke-width="1.08" />
<line x1="535.4" y1="272.6" x2="538.6" y2="272.6" stroke="#141414" stroke-width="1.08" />
<line x1="566.4" y1="272.6" x2="569.6" y2="272.6" stroke="#141414" stroke-width="1.08" />
<line x1="556.8" y1="253.2" x2="556.8" y2="256.4" stroke="#141414" stroke-width="1.08" />
<line x1="556.8" y1="283.8" x2="556.8" y2="287.0" stroke="#141414" stroke-width="1.08" />
<line x1="535.4" y1="274.3" x2="538.6" y2="274.3" stroke="#141414" stroke-width="1.08" />
<line x1="566.4" y1="274.3" x2="569.6" y2="274.3" stroke="#141414" stroke-width="1.08" />
<line x1="558.5" y1="253.2" x2="558.5" y2="256.4" stroke="#141414" stroke-width="1.08" />
<line x1="558.5" y1="283.8" x2="558.5" y2="287.0" stroke="#141414" stroke-width="1.08" />
<line x1="535.4" y1="276.0" x2="538.6" y2="276.0" stroke="#141414" stroke-width="1.08" />
<line x1="566.4" y1="276.0" x2="569.6" y2="276.0" stroke="#141414" stroke-width="1.08" />
<line x1="560.2" y1="253.2" x2="560.2" y2="256.4" stroke="#141414" stroke-width="1.08" />
<line x1="560.2" y1="283.8" x2="560.2" y2="287.0" stroke="#141414" stroke-width="1.08" />
<line x1="535.4" y1="277.7" x2="538.6" y2="277.7" stroke="#141414" stroke-width="1.08" />
<line x1="566.4" y1="277.7" x2="569.6" y2="277.7" stroke="#141414" stroke-width="1.08" />
<line x1="562.0" y1="253.2" x2="562.0" y2="256.4" stroke="#141414" stroke-width="1.08" />
<line x1="562.0" y1="283.8" x2="562.0" y2="287.0" stroke="#141414" stroke-width="1.08" />
<line x1="535.4" y1="279.4" x2="538.6" y2="279.4" stroke="#141414" stroke-width="1.08" />
<line x1="566.4" y1="279.4" x2="569.6" y2="279.4" stroke="#141414" stroke-width="1.08" />
<line x1="563.7" y1="253.2" x2="563.7" y2="256.4" stroke="#141414" stroke-width="1.08" />
<line x1="563.7" y1="283.8" x2="563.7" y2="287.0" stroke="#141414" stroke-width="1.08" />
<line x1="535.4" y1="281.1" x2="538.6" y2="281.1" stroke="#141414" stroke-width="1.08" />
<line x1="566.4" y1="281.1" x2="569.6" y2="281.1" stroke="#141414" stroke-width="1.08" />
<line x1="565.4" y1="253.2" x2="565.4" y2="256.4" stroke="#141414" stroke-width="1.08" />
<line x1="565.4" y1="283.8" x2="565.4" y2="287.0" stroke="#141414" stroke-width="1.08" />
<line x1="535.4" y1="282.8" x2="538.6" y2="282.8" stroke="#141414" stroke-width="1.08" />
<line x1="566.4" y1="282.8" x2="569.6" y2="282.8" stroke="#141414" stroke-width="1.08" />
<circle cx="550.4" cy="279.1" r="1.00" fill="#141414" stroke="#141414" stroke-width="0.6000000000000001"/>
<circle cx="554.9" cy="279.1" r="1.00" fill="#141414" stroke="#141414" stroke-width="0.6000000000000001"/>
<circle cx="559.4" cy="279.1" r="1.00" fill="#141414" stroke="#141414" stroke-width="0.6000000000000001"/>
<circle cx="570.9" cy="281.9" r="1.50" fill="#141414" stroke="#141414" stroke-width="0.75"/>
<line x1="551.0" y1="242.7" x2="551.0" y2="248.5" stroke="#141414" stroke-width="1.5" />
<line x1="551.0" y1="289.0" x2="551.0" y2="303.0" stroke="#141414" stroke-width="1.5" />
<path d="M539.4 227 V239.6 H547.3 M573.8 227 V239.6 H566 " fill="none" stroke="#141414" stroke-width="1.35" />
<rect x="539.4" y="227.0" width="5.0" height="9.0" rx="0" fill="none" stroke="#141414" stroke-width="1.2000000000000002"/>
<rect x="568.6" y="227.0" width="5.2" height="9.0" rx="0" fill="none" stroke="#141414" stroke-width="1.2000000000000002"/>
<rect x="548.0" y="237.3" width="2.3" height="4.6" rx="1.1" fill="#fff" stroke="#141414" stroke-width="0.9750000000000001"/>
<rect x="551.0" y="237.3" width="2.3" height="4.6" rx="1.1" fill="#fff" stroke="#141414" stroke-width="0.9750000000000001"/>
<rect x="554.0" y="237.3" width="2.3" height="4.6" rx="1.1" fill="#fff" stroke="#141414" stroke-width="0.9750000000000001"/>
<rect x="557.0" y="237.3" width="2.3" height="4.6" rx="1.1" fill="#fff" stroke="#141414" stroke-width="0.9750000000000001"/>
<rect x="560.0" y="237.3" width="2.3" height="4.6" rx="1.1" fill="#fff" stroke="#141414" stroke-width="0.9750000000000001"/>
<rect x="563.0" y="237.3" width="2.3" height="4.6" rx="1.1" fill="#fff" stroke="#141414" stroke-width="0.9750000000000001"/>
<line x1="546.5" y1="242.4" x2="567.0" y2="242.4" stroke="#141414" stroke-width="1.35" />
<path d="M572.2 290.2 H616 M572.2 290.2 V301.2 H575.6 V330.4 H616" fill="none" stroke="#141414" stroke-width="1.7249999999999999" />
<rect x="576.7" y="288.2" width="5.9" height="4.0" rx="0" fill="#bbb" stroke="#141414" stroke-width="0.8999999999999999"/>
<rect x="608.7" y="288.2" width="6.0" height="4.0" rx="0" fill="#bbb" stroke="#141414" stroke-width="0.8999999999999999"/>
<rect x="576.7" y="328.4" width="5.9" height="4.0" rx="0" fill="#bbb" stroke="#141414" stroke-width="0.8999999999999999"/>
<rect x="608.7" y="328.4" width="6.0" height="4.0" rx="0" fill="#bbb" stroke="#141414" stroke-width="0.8999999999999999"/>
<rect x="571.2" y="309.4" width="4.2" height="2.2" rx="0" fill="#aaa" stroke="#141414" stroke-width="0.75"/>
<rect x="571.2" y="312.5" width="4.2" height="2.2" rx="0" fill="#aaa" stroke="#141414" stroke-width="0.75"/>
<rect x="571.2" y="315.6" width="4.2" height="2.2" rx="0" fill="#aaa" stroke="#141414" stroke-width="0.75"/>
<rect x="571.2" y="318.7" width="4.2" height="2.2" rx="0" fill="#aaa" stroke="#141414" stroke-width="0.75"/>
<rect x="571.2" y="321.8" width="4.2" height="2.2" rx="0" fill="#aaa" stroke="#141414" stroke-width="0.75"/>
<rect x="571.2" y="324.9" width="4.2" height="2.2" rx="0" fill="#aaa" stroke="#141414" stroke-width="0.75"/>
<path d="M616 298.2 H620.5 Q624.4 298.2 624.4 302 V326.5 Q624.4 330.3 620.5 330.3 H616" fill="none" stroke="#141414" stroke-width="1.6500000000000001" />
<line x1="618.0" y1="298.2" x2="618.0" y2="330.3" stroke="#141414" stroke-width="1.0499999999999998" />
<line x1="620.3" y1="298.6" x2="620.3" y2="330.0" stroke="#141414" stroke-width="1.0499999999999998" />
<line x1="622.3" y1="299.5" x2="622.3" y2="329.0" stroke="#141414" stroke-width="1.0499999999999998" />
<line x1="616.0" y1="290.2" x2="616.0" y2="330.4" stroke="#141414" stroke-width="1.9500000000000002" />
<circle cx="588.8" cy="338.7" r="2.60" fill="#8a8a8a" stroke="#141414" stroke-width="1.4249999999999998"/>
<path d="M582.4 345.8 H621.2 V354 L616.4 380 V386.2 H584.6 L582.4 384 Z" fill="none" stroke="#141414" stroke-width="1.5" />
<rect x="606.3" y="344.2" width="7.0" height="3.4" rx="1" fill="#fff" stroke="#141414" stroke-width="1.0499999999999998"/>
<rect x="606.3" y="384.4" width="7.0" height="3.4" rx="1" fill="#fff" stroke="#141414" stroke-width="1.0499999999999998"/>
<rect x="583.2" y="345.8" width="4.0" height="3.4" rx="0" fill="#fff" stroke="#141414" stroke-width="1.0499999999999998"/>
<rect x="583.2" y="383.6" width="4.0" height="4.0" rx="1" fill="#fff" stroke="#141414" stroke-width="1.0499999999999998"/>
<rect x="580.6" y="359.3" width="4.2" height="2.3" rx="1" fill="#fff" stroke="#141414" stroke-width="0.8999999999999999"/>
<rect x="580.6" y="362.4" width="4.2" height="2.3" rx="1" fill="#fff" stroke="#141414" stroke-width="0.8999999999999999"/>
<rect x="580.6" y="365.4" width="4.2" height="2.3" rx="1" fill="#fff" stroke="#141414" stroke-width="0.8999999999999999"/>
<rect x="580.6" y="368.4" width="4.2" height="2.3" rx="1" fill="#fff" stroke="#141414" stroke-width="0.8999999999999999"/>
<rect x="580.6" y="371.5" width="4.2" height="2.3" rx="1" fill="#fff" stroke="#141414" stroke-width="0.8999999999999999"/>
<rect x="580.6" y="374.6" width="4.2" height="2.3" rx="1" fill="#fff" stroke="#141414" stroke-width="0.8999999999999999"/>
<rect x="580.6" y="377.6" width="4.2" height="2.3" rx="1" fill="#fff" stroke="#141414" stroke-width="0.8999999999999999"/>
<rect x="580.6" y="380.7" width="4.2" height="2.3" rx="1" fill="#fff" stroke="#141414" stroke-width="0.8999999999999999"/>
<circle cx="610.3" cy="358.2" r="1.20" fill="none" stroke="#141414" stroke-width="1.0499999999999998"/>
<circle cx="610.3" cy="378.3" r="1.20" fill="none" stroke="#141414" stroke-width="1.0499999999999998"/>
<path d="M621.3 353.6 H633.2 Q635.4 353.6 635.4 355.8 V380.1 Q635.4 382.3 633.2 382.3 H618.5" fill="none" stroke="#141414" stroke-width="2.0999999999999996" />
<line x1="624.4" y1="353.6" x2="624.4" y2="382.3" stroke="#141414" stroke-width="1.35" />
<line x1="627.6" y1="353.6" x2="627.6" y2="382.3" stroke="#141414" stroke-width="1.35" />
<rect x="565.6" y="389.8" width="13.2" height="26.0" rx="0" fill="#fff" stroke="#141414" stroke-width="3.0"/>
<line x1="570.5" y1="389.8" x2="570.5" y2="415.8" stroke="#141414" stroke-width="1.2000000000000002" />
<circle cx="574.2" cy="400.1" r="1.50" fill="none" stroke="#141414" stroke-width="1.0499999999999998"/>
<circle cx="574.2" cy="405.1" r="1.50" fill="none" stroke="#141414" stroke-width="1.0499999999999998"/>
<circle cx="574.2" cy="410.1" r="1.50" fill="none" stroke="#141414" stroke-width="1.0499999999999998"/>
<rect x="572.6" y="392.5" width="3.4" height="3.5" rx="0" fill="none" stroke="#141414" stroke-width="1.0499999999999998"/>
<path d="M577 392 l3 1.5 l-3 1.5Z" fill="#222"/>
<line x1="567.5" y1="394.5" x2="570.5" y2="394.5" stroke="#141414" stroke-width="1.0499999999999998" />
<line x1="567.5" y1="405.0" x2="570.5" y2="405.0" stroke="#141414" stroke-width="1.0499999999999998" />
<line x1="567.5" y1="411.0" x2="570.5" y2="411.0" stroke="#141414" stroke-width="1.0499999999999998" />
<rect x="481.4" y="394.6" width="39.0" height="18.6" rx="0" fill="#fff" stroke="#141414" stroke-width="1.7999999999999998"/>
<path d="M485.90 390.4V393.8M488.36 390.4V393.8M490.82 390.4V393.8M493.27 390.4V393.8M495.73 390.4V393.8M498.19 390.4V393.8M500.65 390.4V393.8M503.11 390.4V393.8M505.57 390.4V393.8M508.02 390.4V393.8M510.48 390.4V393.8M512.94 390.4V393.8" stroke="#111" stroke-width="1.5" fill="none"/>
<path d="M485.90 414.0V417.6M488.36 414.0V417.6M490.82 414.0V417.6M493.27 414.0V417.6M495.73 414.0V417.6M498.19 414.0V417.6M500.65 414.0V417.6M503.11 414.0V417.6M505.57 414.0V417.6M508.02 414.0V417.6M510.48 414.0V417.6M512.94 414.0V417.6" stroke="#111" stroke-width="1.5" fill="none"/>
<path d="M520.4 395.6 H515.9 V401.6 H518.4 V406.1 H520.4" fill="none" stroke="#141414" stroke-width="1.2000000000000002" />
<rect x="515.2" y="397.6" width="2.6" height="3.4" fill="#222"/>
<rect x="523.9" y="394.6" width="39.7" height="18.6" rx="0" fill="#fff" stroke="#141414" stroke-width="1.7999999999999998"/>
<path d="M528.40 390.4V393.8M530.92 390.4V393.8M533.43 390.4V393.8M535.95 390.4V393.8M538.47 390.4V393.8M540.98 390.4V393.8M543.50 390.4V393.8M546.02 390.4V393.8M548.53 390.4V393.8M551.05 390.4V393.8M553.57 390.4V393.8M556.08 390.4V393.8" stroke="#111" stroke-width="1.5" fill="none"/>
<path d="M528.40 414.0V417.6M530.92 414.0V417.6M533.43 414.0V417.6M535.95 414.0V417.6M538.47 414.0V417.6M540.98 414.0V417.6M543.50 414.0V417.6M546.02 414.0V417.6M548.53 414.0V417.6M551.05 414.0V417.6M553.57 414.0V417.6M556.08 414.0V417.6" stroke="#111" stroke-width="1.5" fill="none"/>
<path d="M563.6 395.6 H559.1 V401.6 H561.6 V406.1 H563.6" fill="none" stroke="#141414" stroke-width="1.2000000000000002" />
<rect x="558.4" y="397.6" width="2.6" height="3.4" fill="#222"/>
<rect x="111.8" y="428.1" width="54.0" height="32.1" rx="0" fill="#fff" stroke="#141414" stroke-width="1.7999999999999998"/>
<line x1="111.8" y1="451.6" x2="165.8" y2="451.6" stroke="#141414" stroke-width="1.35" />
<rect x="125.9" y="428.8" width="12.1" height="12.0" rx="0" fill="none" stroke="#141414" stroke-width="1.2000000000000002"/>
<rect x="139.3" y="428.8" width="12.1" height="12.0" rx="0" fill="none" stroke="#141414" stroke-width="1.2000000000000002"/>
<circle cx="131.8" cy="434.6" r="4.90" fill="none" stroke="#141414" stroke-width="1.35"/>
<circle cx="145.4" cy="434.6" r="4.90" fill="none" stroke="#141414" stroke-width="1.35"/>
<circle cx="131.8" cy="434.6" r="3.60" fill="none" stroke="#888" stroke-width="0.75"/>
<circle cx="145.4" cy="434.6" r="3.60" fill="none" stroke="#888" stroke-width="0.75"/>
<rect x="129.3" y="455.6" width="6.0" height="4.0" rx="0" fill="none" stroke="#141414" stroke-width="1.2000000000000002"/>
<rect x="142.3" y="455.6" width="6.0" height="4.0" rx="0" fill="none" stroke="#141414" stroke-width="1.2000000000000002"/>
<rect x="112.6" y="459.8" width="7.0" height="2.6" rx="0" fill="none" stroke="#141414" stroke-width="1.2000000000000002"/>
<line x1="113.4" y1="451.6" x2="113.4" y2="460.0" stroke="#141414" stroke-width="1.2000000000000002" />
<line x1="138.9" y1="451.6" x2="138.9" y2="460.0" stroke="#141414" stroke-width="1.2000000000000002" />
<rect x="127.9" y="410.0" width="31.9" height="17.2" rx="0" fill="#fff" stroke="#141414" stroke-width="1.7999999999999998"/>
<rect x="131.3" y="415.0" width="25.1" height="9.2" rx="0" fill="none" stroke="#141414" stroke-width="1.2000000000000002"/>
<circle cx="134.7" cy="419.5" r="1.40" fill="none" stroke="#141414" stroke-width="1.0499999999999998"/>
<circle cx="140.9" cy="419.5" r="1.40" fill="none" stroke="#141414" stroke-width="1.0499999999999998"/>
<circle cx="147.3" cy="419.5" r="1.40" fill="none" stroke="#141414" stroke-width="1.0499999999999998"/>
<circle cx="153.8" cy="419.5" r="1.40" fill="none" stroke="#141414" stroke-width="1.0499999999999998"/>
<rect x="141.5" y="424.6" width="5.5" height="2.6" rx="0" fill="#fff" stroke="#141414" stroke-width="1.0499999999999998"/>
<circle cx="174.0" cy="415.5" r="2.70" fill="#777" stroke="#141414" stroke-width="1.9500000000000002"/>
<rect x="167.6" y="432.9" width="12.0" height="24.7" rx="0" fill="#fff" stroke="#141414" stroke-width="1.7999999999999998"/>
<path d="M169.6 434.8 L177.8 443.6 M177.8 434.8 L169.6 443.6" fill="none" stroke="#141414" stroke-width="2.4000000000000004" />
<circle cx="170.7" cy="436.3" r="1.10" fill="#fff" stroke="#141414" stroke-width="0.8999999999999999"/>
<circle cx="176.6" cy="436.3" r="1.10" fill="#fff" stroke="#141414" stroke-width="0.8999999999999999"/>
<circle cx="170.7" cy="442.3" r="1.10" fill="#fff" stroke="#141414" stroke-width="0.8999999999999999"/>
<circle cx="176.6" cy="442.3" r="1.10" fill="#fff" stroke="#141414" stroke-width="0.8999999999999999"/>
<path d="M169.2 457.6 V459.5 Q169.2 463.6 173.6 463.6 Q178.0 463.6 178.0 459.5 V457.6" fill="none" stroke="#141414" stroke-width="1.35" />
<line x1="173.6" y1="452.0" x2="173.6" y2="463.0" stroke="#2c2c2c" stroke-width="1.0499999999999998" />
<rect x="180.5" y="400.9" width="21.7" height="59.0" rx="0" fill="#fff" stroke="#141414" stroke-width="1.9500000000000002"/>
<circle cx="190.7" cy="408.2" r="0.95" fill="#fff" stroke="#141414" stroke-width="1.125"/>
<circle cx="192.8" cy="408.3" r="0.95" fill="#fff" stroke="#141414" stroke-width="1.125"/>
<circle cx="190.7" cy="410.5" r="0.95" fill="#fff" stroke="#141414" stroke-width="1.125"/>
<circle cx="192.8" cy="410.6" r="0.95" fill="#fff" stroke="#141414" stroke-width="1.125"/>
<circle cx="190.7" cy="412.8" r="0.95" fill="#fff" stroke="#141414" stroke-width="1.125"/>
<circle cx="192.8" cy="412.9" r="0.95" fill="#fff" stroke="#141414" stroke-width="1.125"/>
<circle cx="190.7" cy="415.1" r="0.95" fill="#fff" stroke="#141414" stroke-width="1.125"/>
<circle cx="192.8" cy="415.2" r="0.95" fill="#fff" stroke="#141414" stroke-width="1.125"/>
<circle cx="190.7" cy="417.4" r="0.95" fill="#fff" stroke="#141414" stroke-width="1.125"/>
<circle cx="192.8" cy="417.5" r="0.95" fill="#fff" stroke="#141414" stroke-width="1.125"/>
<circle cx="190.7" cy="419.7" r="0.95" fill="#fff" stroke="#141414" stroke-width="1.125"/>
<circle cx="192.8" cy="419.8" r="0.95" fill="#fff" stroke="#141414" stroke-width="1.125"/>
<circle cx="190.7" cy="422.0" r="0.95" fill="#fff" stroke="#141414" stroke-width="1.125"/>
<circle cx="192.8" cy="422.1" r="0.95" fill="#fff" stroke="#141414" stroke-width="1.125"/>
<circle cx="190.7" cy="424.3" r="0.95" fill="#fff" stroke="#141414" stroke-width="1.125"/>
<circle cx="192.8" cy="424.4" r="0.95" fill="#fff" stroke="#141414" stroke-width="1.125"/>
<circle cx="190.7" cy="426.6" r="0.95" fill="#fff" stroke="#141414" stroke-width="1.125"/>
<circle cx="192.8" cy="426.7" r="0.95" fill="#fff" stroke="#141414" stroke-width="1.125"/>
<circle cx="190.7" cy="428.9" r="0.95" fill="#fff" stroke="#141414" stroke-width="1.125"/>
<circle cx="192.8" cy="429.0" r="0.95" fill="#fff" stroke="#141414" stroke-width="1.125"/>
<circle cx="190.7" cy="431.2" r="0.95" fill="#fff" stroke="#141414" stroke-width="1.125"/>
<circle cx="192.8" cy="431.3" r="0.95" fill="#fff" stroke="#141414" stroke-width="1.125"/>
<circle cx="190.7" cy="433.5" r="0.95" fill="#fff" stroke="#141414" stroke-width="1.125"/>
<circle cx="192.8" cy="433.6" r="0.95" fill="#fff" stroke="#141414" stroke-width="1.125"/>
<circle cx="186.0" cy="404.5" r="1.90" fill="none" stroke="#141414" stroke-width="1.2000000000000002"/>
<rect x="198.0" y="401.8" width="2.6" height="5.0" rx="1.3" fill="#fff" stroke="#141414" stroke-width="1.0499999999999998"/>
<rect x="181.9" y="409.4" width="2.5" height="5.2" rx="1.2" fill="#fff" stroke="#141414" stroke-width="1.0499999999999998"/>
<rect x="181.9" y="433.0" width="2.5" height="5.2" rx="1.2" fill="#fff" stroke="#141414" stroke-width="1.0499999999999998"/>
<rect x="198.3" y="426.4" width="2.6" height="5.2" rx="1.2" fill="#fff" stroke="#141414" stroke-width="1.0499999999999998"/>
<circle cx="194.8" cy="438.3" r="2.20" fill="none" stroke="#141414" stroke-width="1.2000000000000002"/>
<rect x="207.2" y="411.4" width="41.0" height="44.8" rx="0" fill="#fff" stroke="#141414" stroke-width="1.7999999999999998"/>
<circle cx="211.1" cy="417.6" r="3.10" fill="none" stroke="#141414" stroke-width="1.4249999999999998"/>
<circle cx="244.5" cy="417.6" r="3.10" fill="none" stroke="#141414" stroke-width="1.4249999999999998"/>
<circle cx="211.1" cy="432.4" r="3.10" fill="none" stroke="#141414" stroke-width="1.4249999999999998"/>
<circle cx="244.5" cy="432.4" r="3.10" fill="none" stroke="#141414" stroke-width="1.4249999999999998"/>
<circle cx="218.7" cy="418.6" r="1.25" fill="none" stroke="#141414" stroke-width="1.275"/>
<circle cx="224.6" cy="418.6" r="1.25" fill="none" stroke="#141414" stroke-width="1.275"/>
<circle cx="230.6" cy="418.6" r="1.25" fill="none" stroke="#141414" stroke-width="1.275"/>
<circle cx="236.5" cy="418.6" r="1.25" fill="none" stroke="#141414" stroke-width="1.275"/>
<circle cx="217.4" cy="423.5" r="1.25" fill="none" stroke="#141414" stroke-width="1.275"/>
<circle cx="222.5" cy="423.5" r="1.25" fill="none" stroke="#141414" stroke-width="1.275"/>
<circle cx="227.6" cy="423.5" r="1.25" fill="none" stroke="#141414" stroke-width="1.275"/>
<circle cx="232.7" cy="423.5" r="1.25" fill="none" stroke="#141414" stroke-width="1.275"/>
<circle cx="237.8" cy="423.5" r="1.25" fill="none" stroke="#141414" stroke-width="1.275"/>
<circle cx="218.7" cy="427.3" r="1.25" fill="none" stroke="#141414" stroke-width="1.275"/>
<circle cx="224.6" cy="427.3" r="1.25" fill="none" stroke="#141414" stroke-width="1.275"/>
<circle cx="230.6" cy="427.3" r="1.25" fill="none" stroke="#141414" stroke-width="1.275"/>
<circle cx="236.5" cy="427.3" r="1.25" fill="none" stroke="#141414" stroke-width="1.275"/>
<path d="M216.8 439.0 L219.2 450.8 M224.4 439.0 L222.0 450.8 M218.0 451.1 H223.2" fill="none" stroke="#141414" stroke-width="1.875" />
<path d="M231.7 439.0 L234.1 450.8 M239.3 439.0 L236.9 450.8 M232.9 451.1 H238.1" fill="none" stroke="#141414" stroke-width="1.875" />
<rect x="258.4" y="411.4" width="40.0" height="44.8" rx="0" fill="#fff" stroke="#141414" stroke-width="1.7999999999999998"/>
<circle cx="262.3" cy="417.6" r="3.10" fill="none" stroke="#141414" stroke-width="1.4249999999999998"/>
<circle cx="294.7" cy="417.6" r="3.10" fill="none" stroke="#141414" stroke-width="1.4249999999999998"/>
<circle cx="262.3" cy="432.4" r="3.10" fill="none" stroke="#141414" stroke-width="1.4249999999999998"/>
<circle cx="294.7" cy="432.4" r="3.10" fill="none" stroke="#141414" stroke-width="1.4249999999999998"/>
<circle cx="269.4" cy="418.6" r="1.25" fill="none" stroke="#141414" stroke-width="1.275"/>
<circle cx="275.3" cy="418.6" r="1.25" fill="none" stroke="#141414" stroke-width="1.275"/>
<circle cx="281.3" cy="418.6" r="1.25" fill="none" stroke="#141414" stroke-width="1.275"/>
<circle cx="287.2" cy="418.6" r="1.25" fill="none" stroke="#141414" stroke-width="1.275"/>
<circle cx="268.1" cy="423.5" r="1.25" fill="none" stroke="#141414" stroke-width="1.275"/>
<circle cx="273.2" cy="423.5" r="1.25" fill="none" stroke="#141414" stroke-width="1.275"/>
<circle cx="278.3" cy="423.5" r="1.25" fill="none" stroke="#141414" stroke-width="1.275"/>
<circle cx="283.4" cy="423.5" r="1.25" fill="none" stroke="#141414" stroke-width="1.275"/>
<circle cx="288.5" cy="423.5" r="1.25" fill="none" stroke="#141414" stroke-width="1.275"/>
<circle cx="269.4" cy="427.3" r="1.25" fill="none" stroke="#141414" stroke-width="1.275"/>
<circle cx="275.3" cy="427.3" r="1.25" fill="none" stroke="#141414" stroke-width="1.275"/>
<circle cx="281.3" cy="427.3" r="1.25" fill="none" stroke="#141414" stroke-width="1.275"/>
<circle cx="287.2" cy="427.3" r="1.25" fill="none" stroke="#141414" stroke-width="1.275"/>
<path d="M268.0 439.0 L270.4 450.8 M275.6 439.0 L273.2 450.8 M269.2 451.1 H274.4" fill="none" stroke="#141414" stroke-width="1.875" />
<path d="M282.9 439.0 L285.3 450.8 M290.5 439.0 L288.1 450.8 M284.1 451.1 H289.3" fill="none" stroke="#141414" stroke-width="1.875" />
<rect x="247.0" y="446.2" width="12.2" height="9.2" rx="0" fill="#262626" stroke="#141414" stroke-width="1.5"/>
<ellipse cx="250.6" cy="450.6" rx="2.6" ry="2.3" fill="#f8f8f8"/><ellipse cx="256.0" cy="450.6" rx="2.6" ry="2.3" fill="#f8f8f8"/>
<circle cx="250.7" cy="450.4" r="0.60" fill="#141414" stroke="#141414" stroke-width="0.44999999999999996"/>
<circle cx="255.6" cy="450.4" r="0.60" fill="#141414" stroke="#141414" stroke-width="0.44999999999999996"/>
<rect x="250.0" y="455.2" width="2.4" height="2.2" rx="0" fill="#fff" stroke="#141414" stroke-width="0.8999999999999999"/>
<rect x="254.0" y="455.2" width="2.4" height="2.2" rx="0" fill="#fff" stroke="#141414" stroke-width="0.8999999999999999"/>
<rect x="304.4" y="393.7" width="21.7" height="12.4" rx="0" fill="#fff" stroke="#141414" stroke-width="1.7999999999999998"/>
<rect x="307.0" y="397.7" width="16.7" height="7.0" rx="0" fill="none" stroke="#141414" stroke-width="1.2000000000000002"/>
<circle cx="310.2" cy="401.2" r="1.30" fill="none" stroke="#141414" stroke-width="1.0499999999999998"/>
<circle cx="315.2" cy="401.2" r="1.30" fill="none" stroke="#141414" stroke-width="1.0499999999999998"/>
<rect x="318.7" y="399.8" width="2.9" height="2.8" rx="0" fill="none" stroke="#141414" stroke-width="1.0499999999999998"/>
<rect x="327.1" y="393.7" width="21.1" height="12.4" rx="0" fill="#fff" stroke="#141414" stroke-width="1.7999999999999998"/>
<rect x="329.7" y="397.7" width="16.1" height="7.0" rx="0" fill="none" stroke="#141414" stroke-width="1.2000000000000002"/>
<circle cx="332.9" cy="401.2" r="1.30" fill="none" stroke="#141414" stroke-width="1.0499999999999998"/>
<circle cx="337.9" cy="401.2" r="1.30" fill="none" stroke="#141414" stroke-width="1.0499999999999998"/>
<rect x="341.4" y="399.8" width="2.9" height="2.8" rx="0" fill="none" stroke="#141414" stroke-width="1.0499999999999998"/>
<rect x="304.4" y="408.5" width="21.7" height="13.7" rx="0" fill="#fff" stroke="#141414" stroke-width="1.7999999999999998"/>
<rect x="307.0" y="413.1" width="16.7" height="7.7" rx="0" fill="none" stroke="#141414" stroke-width="1.2000000000000002"/>
<circle cx="310.2" cy="416.9" r="1.30" fill="none" stroke="#141414" stroke-width="1.0499999999999998"/>
<circle cx="315.2" cy="416.9" r="1.30" fill="none" stroke="#141414" stroke-width="1.0499999999999998"/>
<rect x="318.7" y="415.6" width="2.9" height="2.8" rx="0" fill="none" stroke="#141414" stroke-width="1.0499999999999998"/>
<rect x="304.4" y="423.4" width="21.7" height="7.8" rx="1.2" fill="#333" stroke="#141414" stroke-width="1.5"/>
<circle cx="308.7" cy="427.3" r="1.75" fill="#fff" stroke="#fff" stroke-width="0.6000000000000001"/>
<circle cx="313.8" cy="427.3" r="1.75" fill="#fff" stroke="#fff" stroke-width="0.6000000000000001"/>
<circle cx="318.9" cy="427.3" r="1.75" fill="#fff" stroke="#fff" stroke-width="0.6000000000000001"/>
<rect x="321.8" y="425.6" width="2.8" height="3.4" rx="0" fill="#fff" stroke="#fff" stroke-width="0.6000000000000001"/>
<rect x="413.5" y="423.4" width="22.0" height="7.8" rx="1.2" fill="#333" stroke="#141414" stroke-width="1.5"/>
<circle cx="417.9" cy="427.3" r="1.75" fill="#fff" stroke="#fff" stroke-width="0.6000000000000001"/>
<circle cx="423.1" cy="427.3" r="1.75" fill="#fff" stroke="#fff" stroke-width="0.6000000000000001"/>
<circle cx="428.2" cy="427.3" r="1.75" fill="#fff" stroke="#fff" stroke-width="0.6000000000000001"/>
<rect x="431.1" y="425.6" width="2.9" height="3.4" rx="0" fill="#fff" stroke="#fff" stroke-width="0.6000000000000001"/>
<rect x="303.6" y="431.9" width="81.7" height="23.5" rx="0" fill="#fff" stroke="#141414" stroke-width="2.0999999999999996"/>
<circle cx="312.4" cy="442.7" r="5.90" fill="none" stroke="#141414" stroke-width="1.5"/>
<circle cx="376.4" cy="442.7" r="5.90" fill="none" stroke="#141414" stroke-width="1.5"/>
<rect x="328.5" y="434.7" width="3.2" height="3.2" rx="0" fill="none" stroke="#141414" stroke-width="1.0499999999999998"/>
<circle cx="337.2" cy="436.3" r="1.90" fill="none" stroke="#141414" stroke-width="1.35"/>
<circle cx="344.3" cy="436.3" r="1.90" fill="none" stroke="#141414" stroke-width="1.35"/>
<circle cx="351.4" cy="436.3" r="1.90" fill="none" stroke="#141414" stroke-width="1.35"/>
<circle cx="358.5" cy="436.3" r="1.90" fill="none" stroke="#141414" stroke-width="1.35"/>
<circle cx="333.7" cy="442.8" r="1.90" fill="none" stroke="#141414" stroke-width="1.35"/>
<circle cx="340.8" cy="442.8" r="1.90" fill="none" stroke="#141414" stroke-width="1.35"/>
<circle cx="347.9" cy="442.8" r="1.90" fill="none" stroke="#141414" stroke-width="1.35"/>
<circle cx="355.0" cy="442.8" r="1.90" fill="none" stroke="#141414" stroke-width="1.35"/>
<path d="M307.0 455.4 V463.4 Q307.0 465.4 309.0 465.4 H318.0 Q320.0 465.4 320.0 463.4 V455.4" fill="none" stroke="#141414" stroke-width="2.0250000000000004" />
<path d="M368.7 455.4 V463.4 Q368.7 465.4 370.7 465.4 H379.9 Q381.9 465.4 381.9 463.4 V455.4" fill="none" stroke="#141414" stroke-width="2.0250000000000004" />
<path d="M323.1 455.4 V466.9 Q323.1 469.4 325.6 469.4 H362.8 Q365.3 469.4 365.3 466.9 V455.4" fill="none" stroke="#141414" stroke-width="1.7999999999999998" />
<rect x="391.8" y="431.9" width="80.8" height="23.5" rx="0" fill="#fff" stroke="#141414" stroke-width="2.0999999999999996"/>
<circle cx="400.6" cy="442.7" r="5.90" fill="none" stroke="#141414" stroke-width="1.5"/>
<circle cx="463.7" cy="442.7" r="5.90" fill="none" stroke="#141414" stroke-width="1.5"/>
<rect x="416.7" y="434.7" width="3.2" height="3.2" rx="0" fill="none" stroke="#141414" stroke-width="1.0499999999999998"/>
<circle cx="425.4" cy="436.3" r="1.90" fill="none" stroke="#141414" stroke-width="1.35"/>
<circle cx="432.5" cy="436.3" r="1.90" fill="none" stroke="#141414" stroke-width="1.35"/>
<circle cx="439.6" cy="436.3" r="1.90" fill="none" stroke="#141414" stroke-width="1.35"/>
<circle cx="446.7" cy="436.3" r="1.90" fill="none" stroke="#141414" stroke-width="1.35"/>
<circle cx="421.9" cy="442.8" r="1.90" fill="none" stroke="#141414" stroke-width="1.35"/>
<circle cx="429.0" cy="442.8" r="1.90" fill="none" stroke="#141414" stroke-width="1.35"/>
<circle cx="436.1" cy="442.8" r="1.90" fill="none" stroke="#141414" stroke-width="1.35"/>
<circle cx="443.2" cy="442.8" r="1.90" fill="none" stroke="#141414" stroke-width="1.35"/>
<path d="M395.2 455.4 V463.4 Q395.2 465.4 397.2 465.4 H406.2 Q408.2 465.4 408.2 463.4 V455.4" fill="none" stroke="#141414" stroke-width="2.0250000000000004" />
<path d="M456.0 455.4 V463.4 Q456.0 465.4 458.0 465.4 H467.2 Q469.2 465.4 469.2 463.4 V455.4" fill="none" stroke="#141414" stroke-width="2.0250000000000004" />
<path d="M411.3 455.4 V466.9 Q411.3 469.4 413.8 469.4 H450.1 Q452.6 469.4 452.6 466.9 V455.4" fill="none" stroke="#141414" stroke-width="1.7999999999999998" />
<rect x="479.9" y="419.3" width="44.4" height="40.9" rx="0" fill="#fff" stroke="#141414" stroke-width="1.7999999999999998"/>
<circle cx="484.8" cy="423.4" r="1.90" fill="none" stroke="#141414" stroke-width="1.2000000000000002"/>
<circle cx="519.4" cy="423.4" r="1.90" fill="none" stroke="#141414" stroke-width="1.2000000000000002"/>
<circle cx="490.4" cy="423.4" r="1.90" fill="none" stroke="#141414" stroke-width="1.2000000000000002"/>
<circle cx="513.8" cy="423.4" r="1.90" fill="none" stroke="#141414" stroke-width="1.2000000000000002"/>
<circle cx="493.4" cy="435.3" r="1.90" fill="none" stroke="#141414" stroke-width="1.2000000000000002"/>
<circle cx="498.4" cy="435.3" r="1.90" fill="none" stroke="#141414" stroke-width="1.2000000000000002"/>
<circle cx="503.5" cy="435.3" r="1.90" fill="none" stroke="#141414" stroke-width="1.2000000000000002"/>
<circle cx="508.5" cy="435.3" r="1.90" fill="none" stroke="#141414" stroke-width="1.2000000000000002"/>
<circle cx="496.0" cy="439.7" r="1.90" fill="none" stroke="#141414" stroke-width="1.2000000000000002"/>
<circle cx="501.0" cy="439.7" r="1.90" fill="none" stroke="#141414" stroke-width="1.2000000000000002"/>
<circle cx="506.0" cy="439.7" r="1.90" fill="none" stroke="#141414" stroke-width="1.2000000000000002"/>
<circle cx="511.0" cy="439.7" r="1.90" fill="none" stroke="#141414" stroke-width="1.2000000000000002"/>
<circle cx="486.0" cy="446.7" r="4.40" fill="none" stroke="#141414" stroke-width="1.35"/>
<circle cx="518.3" cy="446.7" r="4.40" fill="none" stroke="#141414" stroke-width="1.35"/>
<circle cx="481.3" cy="437.7" r="2.40" fill="none" stroke="#141414" stroke-width="1.2000000000000002"/>
<circle cx="522.9" cy="437.7" r="2.40" fill="none" stroke="#141414" stroke-width="1.2000000000000002"/>
<line x1="483.9" y1="460.2" x2="487.4" y2="460.2" stroke="#141414" stroke-width="3.0" />
<line x1="491.9" y1="460.2" x2="495.4" y2="460.2" stroke="#141414" stroke-width="3.0" />
<line x1="509.9" y1="460.2" x2="513.4" y2="460.2" stroke="#141414" stroke-width="3.0" />
<line x1="517.9" y1="460.2" x2="521.4" y2="460.2" stroke="#141414" stroke-width="3.0" />
<rect x="528.5" y="419.3" width="43.6" height="40.9" rx="0" fill="#fff" stroke="#141414" stroke-width="1.7999999999999998"/>
<circle cx="533.4" cy="423.4" r="1.90" fill="none" stroke="#141414" stroke-width="1.2000000000000002"/>
<circle cx="567.2" cy="423.4" r="1.90" fill="none" stroke="#141414" stroke-width="1.2000000000000002"/>
<circle cx="539.0" cy="423.4" r="1.90" fill="none" stroke="#141414" stroke-width="1.2000000000000002"/>
<circle cx="561.6" cy="423.4" r="1.90" fill="none" stroke="#141414" stroke-width="1.2000000000000002"/>
<circle cx="542.0" cy="435.3" r="1.90" fill="none" stroke="#141414" stroke-width="1.2000000000000002"/>
<circle cx="547.0" cy="435.3" r="1.90" fill="none" stroke="#141414" stroke-width="1.2000000000000002"/>
<circle cx="552.1" cy="435.3" r="1.90" fill="none" stroke="#141414" stroke-width="1.2000000000000002"/>
<circle cx="557.1" cy="435.3" r="1.90" fill="none" stroke="#141414" stroke-width="1.2000000000000002"/>
<circle cx="544.6" cy="439.7" r="1.90" fill="none" stroke="#141414" stroke-width="1.2000000000000002"/>
<circle cx="549.6" cy="439.7" r="1.90" fill="none" stroke="#141414" stroke-width="1.2000000000000002"/>
<circle cx="554.6" cy="439.7" r="1.90" fill="none" stroke="#141414" stroke-width="1.2000000000000002"/>
<circle cx="559.6" cy="439.7" r="1.90" fill="none" stroke="#141414" stroke-width="1.2000000000000002"/>
<circle cx="534.6" cy="446.7" r="4.40" fill="none" stroke="#141414" stroke-width="1.35"/>
<circle cx="566.1" cy="446.7" r="4.40" fill="none" stroke="#141414" stroke-width="1.35"/>
<circle cx="529.9" cy="437.7" r="2.40" fill="none" stroke="#141414" stroke-width="1.2000000000000002"/>
<circle cx="570.7" cy="437.7" r="2.40" fill="none" stroke="#141414" stroke-width="1.2000000000000002"/>
<line x1="532.5" y1="460.2" x2="536.0" y2="460.2" stroke="#141414" stroke-width="3.0" />
<line x1="540.5" y1="460.2" x2="544.0" y2="460.2" stroke="#141414" stroke-width="3.0" />
<line x1="558.5" y1="460.2" x2="562.0" y2="460.2" stroke="#141414" stroke-width="3.0" />
<line x1="566.5" y1="460.2" x2="570.0" y2="460.2" stroke="#141414" stroke-width="3.0" />
<line x1="526.4" y1="419.3" x2="526.4" y2="460.2" stroke="#141414" stroke-width="3.9000000000000004" />
<path d="M479.9 440 H476.4 V460.2 H479.9" fill="none" stroke="#141414" stroke-width="1.5" />
<path d="M572.1 440 H575.6 V460.2 H572.1" fill="none" stroke="#141414" stroke-width="1.5" />
<rect x="581.0" y="423.5" width="16.2" height="28.9" rx="0" fill="#fff" stroke="#141414" stroke-width="1.5"/>
<rect x="578.4" y="422.8" width="3.6" height="3.2" rx="0.8" fill="#fff" stroke="#141414" stroke-width="1.0499999999999998"/>
<rect x="578.4" y="427.4" width="3.6" height="3.2" rx="0.8" fill="#fff" stroke="#141414" stroke-width="1.0499999999999998"/>
<rect x="578.8" y="446.4" width="3.6" height="3.2" rx="0.8" fill="#fff" stroke="#141414" stroke-width="1.0499999999999998"/>
<rect x="595.8" y="423.8" width="3.6" height="3.2" rx="0.8" fill="#fff" stroke="#141414" stroke-width="1.0499999999999998"/>
<rect x="595.8" y="437.6" width="3.6" height="3.2" rx="0.8" fill="#fff" stroke="#141414" stroke-width="1.0499999999999998"/>
<rect x="595.8" y="446.4" width="3.6" height="3.2" rx="0.8" fill="#fff" stroke="#141414" stroke-width="1.0499999999999998"/>
<circle cx="588.6" cy="429.2" r="1.50" fill="none" stroke="#141414" stroke-width="1.2000000000000002"/>
<circle cx="588.6" cy="447.3" r="1.50" fill="none" stroke="#141414" stroke-width="1.2000000000000002"/>
<path d="M581.6 452.4 V458 Q581.6 459.4 583 459.4 H593.8 Q595.2 459.4 595.2 458 V452.4" fill="none" stroke="#141414" stroke-width="1.5" />
<line x1="584.5" y1="452.4" x2="584.5" y2="459.4" stroke="#2c2c2c" stroke-width="1.0499999999999998" />
<line x1="592.3" y1="452.4" x2="592.3" y2="459.4" stroke="#2c2c2c" stroke-width="1.0499999999999998" />
<path d="M599.5 447 l4 1.8 l-4 1.8Z" fill="#222"/>
<line x1="254.7" y1="289.0" x2="254.7" y2="446.4" stroke="#2c2c2c" stroke-width="1.35" />
<line x1="359.2" y1="289.0" x2="359.2" y2="452.0" stroke="#2c2c2c" stroke-width="1.35" />
<path d="M359.2 452.5 L357.9 448.0 L360.4 448.0Z" fill="#141414"/>
<line x1="478.0" y1="406.1" x2="538.0" y2="406.1" stroke="#2c2c2c" stroke-width="1.35" />
<line x1="559.0" y1="406.1" x2="565.0" y2="406.1" stroke="#2c2c2c" stroke-width="1.35" />
<line x1="119.6" y1="397.4" x2="119.6" y2="462.0" stroke="#2c2c2c" stroke-width="1.2000000000000002" />
<line x1="120.0" y1="217.5" x2="120.0" y2="239.6" stroke="#2c2c2c" stroke-width="1.2000000000000002" />
<line x1="593.2" y1="212.5" x2="593.2" y2="239.6" stroke="#2c2c2c" stroke-width="1.2000000000000002" />
<text x="538.5" y="409.1" font-size="8.2" text-anchor="start" fill="#262626" font-weight="normal" textLength="20.2" lengthAdjust="spacingAndGlyphs" >191.01</text>
</g>
</svg>
</body>
</html>
